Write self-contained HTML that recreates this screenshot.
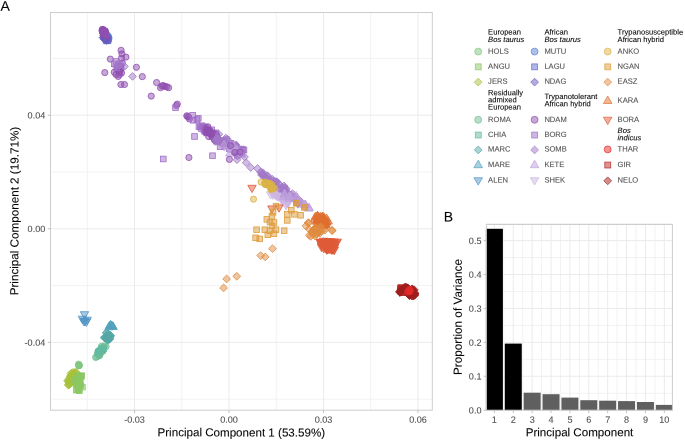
<!DOCTYPE html>
<html><head><meta charset="utf-8"><style>
html,body{margin:0;padding:0;background:#fff;width:685px;height:440px;overflow:hidden}
svg text{font-family:"Liberation Sans",sans-serif;text-rendering:geometricPrecision}
svg{will-change:transform}
svg text{stroke-opacity:0.25;stroke-width:0.3px}
</style></head><body>
<svg width="685" height="440" viewBox="0 0 685 440" style="position:absolute;left:0;top:0">
<rect width="685" height="440" fill="#fff"/>
<g shape-rendering="auto">
<line x1="87.25" y1="12.5" x2="87.25" y2="410.2" stroke="#f2f2f2" stroke-width="1"/>
<line x1="181.75" y1="12.5" x2="181.75" y2="410.2" stroke="#f2f2f2" stroke-width="1"/>
<line x1="276.25" y1="12.5" x2="276.25" y2="410.2" stroke="#f2f2f2" stroke-width="1"/>
<line x1="370.75" y1="12.5" x2="370.75" y2="410.2" stroke="#f2f2f2" stroke-width="1"/>
<line x1="50.5" y1="58.40" x2="432.3" y2="58.40" stroke="#f2f2f2" stroke-width="1"/>
<line x1="50.5" y1="172.00" x2="432.3" y2="172.00" stroke="#f2f2f2" stroke-width="1"/>
<line x1="50.5" y1="285.60" x2="432.3" y2="285.60" stroke="#f2f2f2" stroke-width="1"/>
<line x1="50.5" y1="399.20" x2="432.3" y2="399.20" stroke="#f2f2f2" stroke-width="1"/>
<line x1="134.50" y1="12.5" x2="134.50" y2="410.2" stroke="#ebebeb" stroke-width="1"/>
<line x1="229.00" y1="12.5" x2="229.00" y2="410.2" stroke="#ebebeb" stroke-width="1"/>
<line x1="323.50" y1="12.5" x2="323.50" y2="410.2" stroke="#ebebeb" stroke-width="1"/>
<line x1="418.00" y1="12.5" x2="418.00" y2="410.2" stroke="#ebebeb" stroke-width="1"/>
<line x1="50.5" y1="115.20" x2="432.3" y2="115.20" stroke="#ebebeb" stroke-width="1"/>
<line x1="50.5" y1="228.80" x2="432.3" y2="228.80" stroke="#ebebeb" stroke-width="1"/>
<line x1="50.5" y1="342.40" x2="432.3" y2="342.40" stroke="#ebebeb" stroke-width="1"/>
</g>
<path d="M74.7 374.9L78.6 378.8L74.7 382.7L70.8 378.8Z" fill="#a8c23c" fill-opacity="0.5" stroke="#a8c23c" stroke-opacity="1.0" stroke-width="0.8"/>
<path d="M67.5 377.1L71.4 381.0L67.5 384.9L63.6 381.0Z" fill="#a8c23c" fill-opacity="0.5" stroke="#a8c23c" stroke-opacity="1.0" stroke-width="0.8"/>
<path d="M75.2 368.8L79.1 372.7L75.2 376.6L71.3 372.7Z" fill="#a8c23c" fill-opacity="0.5" stroke="#a8c23c" stroke-opacity="1.0" stroke-width="0.8"/>
<path d="M68.6 375.3L72.5 379.2L68.6 383.1L64.7 379.2Z" fill="#a8c23c" fill-opacity="0.5" stroke="#a8c23c" stroke-opacity="1.0" stroke-width="0.8"/>
<path d="M69.7 378.3L73.6 382.2L69.7 386.1L65.8 382.2Z" fill="#a8c23c" fill-opacity="0.5" stroke="#a8c23c" stroke-opacity="1.0" stroke-width="0.8"/>
<path d="M70.5 372.1L74.4 376.0L70.5 379.9L66.6 376.0Z" fill="#a8c23c" fill-opacity="0.5" stroke="#a8c23c" stroke-opacity="1.0" stroke-width="0.8"/>
<path d="M71.9 372.1L75.8 376.0L71.9 379.9L68.0 376.0Z" fill="#a8c23c" fill-opacity="0.5" stroke="#a8c23c" stroke-opacity="1.0" stroke-width="0.8"/>
<path d="M74.9 369.9L78.8 373.8L74.9 377.7L71.0 373.8Z" fill="#a8c23c" fill-opacity="0.5" stroke="#a8c23c" stroke-opacity="1.0" stroke-width="0.8"/>
<path d="M71.9 375.0L75.8 378.9L71.9 382.8L68.0 378.9Z" fill="#a8c23c" fill-opacity="0.5" stroke="#a8c23c" stroke-opacity="1.0" stroke-width="0.8"/>
<path d="M74.9 368.8L78.8 372.7L74.9 376.6L71.0 372.7Z" fill="#a8c23c" fill-opacity="0.5" stroke="#a8c23c" stroke-opacity="1.0" stroke-width="0.8"/>
<path d="M70.8 369.7L74.7 373.6L70.8 377.5L66.9 373.6Z" fill="#a8c23c" fill-opacity="0.5" stroke="#a8c23c" stroke-opacity="1.0" stroke-width="0.8"/>
<path d="M68.6 380.6L72.5 384.5L68.6 388.4L64.7 384.5Z" fill="#a8c23c" fill-opacity="0.5" stroke="#a8c23c" stroke-opacity="1.0" stroke-width="0.8"/>
<path d="M70.2 377.0L74.1 380.9L70.2 384.8L66.3 380.9Z" fill="#a8c23c" fill-opacity="0.5" stroke="#a8c23c" stroke-opacity="1.0" stroke-width="0.8"/>
<path d="M74.1 368.6L78.0 372.5L74.1 376.4L70.2 372.5Z" fill="#a8c23c" fill-opacity="0.5" stroke="#a8c23c" stroke-opacity="1.0" stroke-width="0.8"/>
<path d="M74.9 373.3L78.8 377.2L74.9 381.1L71.0 377.2Z" fill="#a8c23c" fill-opacity="0.5" stroke="#a8c23c" stroke-opacity="1.0" stroke-width="0.8"/>
<path d="M72.2 372.2L76.1 376.1L72.2 380.0L68.3 376.1Z" fill="#a8c23c" fill-opacity="0.5" stroke="#a8c23c" stroke-opacity="1.0" stroke-width="0.8"/>
<path d="M71.6 378.2L75.5 382.1L71.6 386.0L67.7 382.1Z" fill="#a8c23c" fill-opacity="0.5" stroke="#a8c23c" stroke-opacity="1.0" stroke-width="0.8"/>
<path d="M72.1 372.6L76.0 376.5L72.1 380.4L68.2 376.5Z" fill="#a8c23c" fill-opacity="0.5" stroke="#a8c23c" stroke-opacity="1.0" stroke-width="0.8"/>
<path d="M69.3 377.3L73.2 381.2L69.3 385.1L65.4 381.2Z" fill="#a8c23c" fill-opacity="0.5" stroke="#a8c23c" stroke-opacity="1.0" stroke-width="0.8"/>
<path d="M74.3 374.1L78.2 378.0L74.3 381.9L70.4 378.0Z" fill="#a8c23c" fill-opacity="0.5" stroke="#a8c23c" stroke-opacity="1.0" stroke-width="0.8"/>
<path d="M72.4 376.4L76.3 380.3L72.4 384.2L68.5 380.3Z" fill="#a8c23c" fill-opacity="0.5" stroke="#a8c23c" stroke-opacity="1.0" stroke-width="0.8"/>
<path d="M72.9 375.6L76.8 379.5L72.9 383.4L69.0 379.5Z" fill="#a8c23c" fill-opacity="0.5" stroke="#a8c23c" stroke-opacity="1.0" stroke-width="0.8"/>
<path d="M72.5 373.8L76.4 377.7L72.5 381.6L68.6 377.7Z" fill="#a8c23c" fill-opacity="0.5" stroke="#a8c23c" stroke-opacity="1.0" stroke-width="0.8"/>
<path d="M70.0 377.4L73.9 381.3L70.0 385.2L66.1 381.3Z" fill="#a8c23c" fill-opacity="0.5" stroke="#a8c23c" stroke-opacity="1.0" stroke-width="0.8"/>
<path d="M75.7 369.5L79.6 373.4L75.7 377.3L71.8 373.4Z" fill="#a8c23c" fill-opacity="0.5" stroke="#a8c23c" stroke-opacity="1.0" stroke-width="0.8"/>
<path d="M73.7 372.9L77.6 376.8L73.7 380.7L69.8 376.8Z" fill="#a8c23c" fill-opacity="0.5" stroke="#a8c23c" stroke-opacity="1.0" stroke-width="0.8"/>
<path d="M68.9 377.4L72.8 381.3L68.9 385.2L65.0 381.3Z" fill="#a8c23c" fill-opacity="0.5" stroke="#a8c23c" stroke-opacity="1.0" stroke-width="0.8"/>
<path d="M72.2 368.8L76.1 372.7L72.2 376.6L68.3 372.7Z" fill="#a8c23c" fill-opacity="0.5" stroke="#a8c23c" stroke-opacity="1.0" stroke-width="0.8"/>
<path d="M70.4 373.1L74.3 377.0L70.4 380.9L66.5 377.0Z" fill="#a8c23c" fill-opacity="0.5" stroke="#a8c23c" stroke-opacity="1.0" stroke-width="0.8"/>
<path d="M76.3 368.4L80.2 372.3L76.3 376.2L72.4 372.3Z" fill="#a8c23c" fill-opacity="0.5" stroke="#a8c23c" stroke-opacity="1.0" stroke-width="0.8"/>
<path d="M73.9 370.6L77.8 374.5L73.9 378.4L70.0 374.5Z" fill="#a8c23c" fill-opacity="0.5" stroke="#a8c23c" stroke-opacity="1.0" stroke-width="0.8"/>
<path d="M68.9 381.0L72.8 384.9L68.9 388.8L65.0 384.9Z" fill="#a8c23c" fill-opacity="0.5" stroke="#a8c23c" stroke-opacity="1.0" stroke-width="0.8"/>
<path d="M70.7 372.4L74.6 376.3L70.7 380.2L66.8 376.3Z" fill="#a8c23c" fill-opacity="0.5" stroke="#a8c23c" stroke-opacity="1.0" stroke-width="0.8"/>
<path d="M68.5 381.3L72.4 385.2L68.5 389.1L64.6 385.2Z" fill="#a8c23c" fill-opacity="0.5" stroke="#a8c23c" stroke-opacity="1.0" stroke-width="0.8"/>
<path d="M71.1 378.9L75.0 382.8L71.1 386.7L67.2 382.8Z" fill="#a8c23c" fill-opacity="0.5" stroke="#a8c23c" stroke-opacity="1.0" stroke-width="0.8"/>
<path d="M74.0 376.1L77.9 380.0L74.0 383.9L70.1 380.0Z" fill="#a8c23c" fill-opacity="0.5" stroke="#a8c23c" stroke-opacity="1.0" stroke-width="0.8"/>
<path d="M72.3 372.5L76.2 376.4L72.3 380.3L68.4 376.4Z" fill="#a8c23c" fill-opacity="0.5" stroke="#a8c23c" stroke-opacity="1.0" stroke-width="0.8"/>
<path d="M68.9 377.5L72.8 381.4L68.9 385.3L65.0 381.4Z" fill="#a8c23c" fill-opacity="0.5" stroke="#a8c23c" stroke-opacity="1.0" stroke-width="0.8"/>
<path d="M69.6 379.5L73.5 383.4L69.6 387.3L65.7 383.4Z" fill="#a8c23c" fill-opacity="0.5" stroke="#a8c23c" stroke-opacity="1.0" stroke-width="0.8"/>
<path d="M73.4 369.5L77.3 373.4L73.4 377.3L69.5 373.4Z" fill="#a8c23c" fill-opacity="0.5" stroke="#a8c23c" stroke-opacity="1.0" stroke-width="0.8"/>
<circle cx="78.7" cy="365.8" r="3.10" fill="#7cc67c" fill-opacity="0.5" stroke="#7cc67c" stroke-opacity="1.0" stroke-width="0.8"/>
<circle cx="79.5" cy="365.4" r="3.10" fill="#7cc67c" fill-opacity="0.5" stroke="#7cc67c" stroke-opacity="1.0" stroke-width="0.8"/>
<circle cx="78.9" cy="365.2" r="3.10" fill="#7cc67c" fill-opacity="0.5" stroke="#7cc67c" stroke-opacity="1.0" stroke-width="0.8"/>
<circle cx="78.6" cy="364.2" r="3.10" fill="#7cc67c" fill-opacity="0.5" stroke="#7cc67c" stroke-opacity="1.0" stroke-width="0.8"/>
<rect x="77.1" y="376.4" width="5.6" height="5.6" fill="#8cc764" fill-opacity="0.5" stroke="#8cc764" stroke-opacity="1.0" stroke-width="0.8"/>
<rect x="77.7" y="382.4" width="5.6" height="5.6" fill="#8cc764" fill-opacity="0.5" stroke="#8cc764" stroke-opacity="1.0" stroke-width="0.8"/>
<rect x="76.1" y="375.3" width="5.6" height="5.6" fill="#8cc764" fill-opacity="0.5" stroke="#8cc764" stroke-opacity="1.0" stroke-width="0.8"/>
<rect x="73.1" y="376.4" width="5.6" height="5.6" fill="#8cc764" fill-opacity="0.5" stroke="#8cc764" stroke-opacity="1.0" stroke-width="0.8"/>
<rect x="76.4" y="387.9" width="5.6" height="5.6" fill="#8cc764" fill-opacity="0.5" stroke="#8cc764" stroke-opacity="1.0" stroke-width="0.8"/>
<rect x="74.2" y="381.7" width="5.6" height="5.6" fill="#8cc764" fill-opacity="0.5" stroke="#8cc764" stroke-opacity="1.0" stroke-width="0.8"/>
<rect x="73.2" y="381.7" width="5.6" height="5.6" fill="#8cc764" fill-opacity="0.5" stroke="#8cc764" stroke-opacity="1.0" stroke-width="0.8"/>
<rect x="72.7" y="377.3" width="5.6" height="5.6" fill="#8cc764" fill-opacity="0.5" stroke="#8cc764" stroke-opacity="1.0" stroke-width="0.8"/>
<rect x="78.3" y="373.2" width="5.6" height="5.6" fill="#8cc764" fill-opacity="0.5" stroke="#8cc764" stroke-opacity="1.0" stroke-width="0.8"/>
<rect x="75.5" y="385.4" width="5.6" height="5.6" fill="#8cc764" fill-opacity="0.5" stroke="#8cc764" stroke-opacity="1.0" stroke-width="0.8"/>
<rect x="75.8" y="379.2" width="5.6" height="5.6" fill="#8cc764" fill-opacity="0.5" stroke="#8cc764" stroke-opacity="1.0" stroke-width="0.8"/>
<rect x="75.1" y="372.9" width="5.6" height="5.6" fill="#8cc764" fill-opacity="0.5" stroke="#8cc764" stroke-opacity="1.0" stroke-width="0.8"/>
<rect x="77.2" y="382.3" width="5.6" height="5.6" fill="#8cc764" fill-opacity="0.5" stroke="#8cc764" stroke-opacity="1.0" stroke-width="0.8"/>
<rect x="76.8" y="377.9" width="5.6" height="5.6" fill="#8cc764" fill-opacity="0.5" stroke="#8cc764" stroke-opacity="1.0" stroke-width="0.8"/>
<rect x="75.3" y="385.0" width="5.6" height="5.6" fill="#8cc764" fill-opacity="0.5" stroke="#8cc764" stroke-opacity="1.0" stroke-width="0.8"/>
<rect x="77.5" y="382.1" width="5.6" height="5.6" fill="#8cc764" fill-opacity="0.5" stroke="#8cc764" stroke-opacity="1.0" stroke-width="0.8"/>
<rect x="73.2" y="379.4" width="5.6" height="5.6" fill="#8cc764" fill-opacity="0.5" stroke="#8cc764" stroke-opacity="1.0" stroke-width="0.8"/>
<rect x="77.0" y="382.3" width="5.6" height="5.6" fill="#8cc764" fill-opacity="0.5" stroke="#8cc764" stroke-opacity="1.0" stroke-width="0.8"/>
<rect x="74.5" y="379.0" width="5.6" height="5.6" fill="#8cc764" fill-opacity="0.5" stroke="#8cc764" stroke-opacity="1.0" stroke-width="0.8"/>
<rect x="79.6" y="384.3" width="5.6" height="5.6" fill="#8cc764" fill-opacity="0.5" stroke="#8cc764" stroke-opacity="1.0" stroke-width="0.8"/>
<rect x="78.2" y="374.9" width="5.6" height="5.6" fill="#8cc764" fill-opacity="0.5" stroke="#8cc764" stroke-opacity="1.0" stroke-width="0.8"/>
<rect x="76.4" y="387.5" width="5.6" height="5.6" fill="#8cc764" fill-opacity="0.5" stroke="#8cc764" stroke-opacity="1.0" stroke-width="0.8"/>
<rect x="75.9" y="374.1" width="5.6" height="5.6" fill="#8cc764" fill-opacity="0.5" stroke="#8cc764" stroke-opacity="1.0" stroke-width="0.8"/>
<rect x="78.9" y="372.9" width="5.6" height="5.6" fill="#8cc764" fill-opacity="0.5" stroke="#8cc764" stroke-opacity="1.0" stroke-width="0.8"/>
<rect x="75.8" y="374.4" width="5.6" height="5.6" fill="#8cc764" fill-opacity="0.5" stroke="#8cc764" stroke-opacity="1.0" stroke-width="0.8"/>
<rect x="75.7" y="385.7" width="5.6" height="5.6" fill="#8cc764" fill-opacity="0.5" stroke="#8cc764" stroke-opacity="1.0" stroke-width="0.8"/>
<rect x="77.8" y="373.4" width="5.6" height="5.6" fill="#8cc764" fill-opacity="0.5" stroke="#8cc764" stroke-opacity="1.0" stroke-width="0.8"/>
<rect x="74.8" y="387.1" width="5.6" height="5.6" fill="#8cc764" fill-opacity="0.5" stroke="#8cc764" stroke-opacity="1.0" stroke-width="0.8"/>
<rect x="73.5" y="387.3" width="5.6" height="5.6" fill="#8cc764" fill-opacity="0.5" stroke="#8cc764" stroke-opacity="1.0" stroke-width="0.8"/>
<rect x="76.9" y="381.0" width="5.6" height="5.6" fill="#8cc764" fill-opacity="0.5" stroke="#8cc764" stroke-opacity="1.0" stroke-width="0.8"/>
<circle cx="97.4" cy="353.9" r="3.10" fill="#6ebd95" fill-opacity="0.5" stroke="#6ebd95" stroke-opacity="1.0" stroke-width="0.8"/>
<circle cx="102.9" cy="351.0" r="3.10" fill="#6ebd95" fill-opacity="0.5" stroke="#6ebd95" stroke-opacity="1.0" stroke-width="0.8"/>
<circle cx="103.3" cy="349.7" r="3.10" fill="#6ebd95" fill-opacity="0.5" stroke="#6ebd95" stroke-opacity="1.0" stroke-width="0.8"/>
<circle cx="99.4" cy="353.6" r="3.10" fill="#6ebd95" fill-opacity="0.5" stroke="#6ebd95" stroke-opacity="1.0" stroke-width="0.8"/>
<circle cx="98.8" cy="355.8" r="3.10" fill="#6ebd95" fill-opacity="0.5" stroke="#6ebd95" stroke-opacity="1.0" stroke-width="0.8"/>
<circle cx="98.8" cy="355.6" r="3.10" fill="#6ebd95" fill-opacity="0.5" stroke="#6ebd95" stroke-opacity="1.0" stroke-width="0.8"/>
<circle cx="106.1" cy="346.7" r="3.10" fill="#6ebd95" fill-opacity="0.5" stroke="#6ebd95" stroke-opacity="1.0" stroke-width="0.8"/>
<circle cx="99.5" cy="352.1" r="3.10" fill="#6ebd95" fill-opacity="0.5" stroke="#6ebd95" stroke-opacity="1.0" stroke-width="0.8"/>
<circle cx="103.3" cy="348.2" r="3.10" fill="#6ebd95" fill-opacity="0.5" stroke="#6ebd95" stroke-opacity="1.0" stroke-width="0.8"/>
<circle cx="100.8" cy="350.4" r="3.10" fill="#6ebd95" fill-opacity="0.5" stroke="#6ebd95" stroke-opacity="1.0" stroke-width="0.8"/>
<circle cx="102.7" cy="350.6" r="3.10" fill="#6ebd95" fill-opacity="0.5" stroke="#6ebd95" stroke-opacity="1.0" stroke-width="0.8"/>
<circle cx="103.0" cy="351.1" r="3.10" fill="#6ebd95" fill-opacity="0.5" stroke="#6ebd95" stroke-opacity="1.0" stroke-width="0.8"/>
<circle cx="97.8" cy="352.2" r="3.10" fill="#6ebd95" fill-opacity="0.5" stroke="#6ebd95" stroke-opacity="1.0" stroke-width="0.8"/>
<circle cx="100.8" cy="350.4" r="3.10" fill="#6ebd95" fill-opacity="0.5" stroke="#6ebd95" stroke-opacity="1.0" stroke-width="0.8"/>
<circle cx="101.0" cy="351.0" r="3.10" fill="#6ebd95" fill-opacity="0.5" stroke="#6ebd95" stroke-opacity="1.0" stroke-width="0.8"/>
<circle cx="95.6" cy="357.4" r="3.10" fill="#6ebd95" fill-opacity="0.5" stroke="#6ebd95" stroke-opacity="1.0" stroke-width="0.8"/>
<circle cx="104.0" cy="347.3" r="3.10" fill="#6ebd95" fill-opacity="0.5" stroke="#6ebd95" stroke-opacity="1.0" stroke-width="0.8"/>
<circle cx="99.7" cy="354.8" r="3.10" fill="#6ebd95" fill-opacity="0.5" stroke="#6ebd95" stroke-opacity="1.0" stroke-width="0.8"/>
<circle cx="96.8" cy="356.8" r="3.10" fill="#6ebd95" fill-opacity="0.5" stroke="#6ebd95" stroke-opacity="1.0" stroke-width="0.8"/>
<circle cx="101.3" cy="351.8" r="3.10" fill="#6ebd95" fill-opacity="0.5" stroke="#6ebd95" stroke-opacity="1.0" stroke-width="0.8"/>
<circle cx="99.5" cy="350.0" r="3.10" fill="#6ebd95" fill-opacity="0.5" stroke="#6ebd95" stroke-opacity="1.0" stroke-width="0.8"/>
<circle cx="99.2" cy="355.7" r="3.10" fill="#6ebd95" fill-opacity="0.5" stroke="#6ebd95" stroke-opacity="1.0" stroke-width="0.8"/>
<circle cx="99.3" cy="352.0" r="3.10" fill="#6ebd95" fill-opacity="0.5" stroke="#6ebd95" stroke-opacity="1.0" stroke-width="0.8"/>
<circle cx="99.9" cy="355.0" r="3.10" fill="#6ebd95" fill-opacity="0.5" stroke="#6ebd95" stroke-opacity="1.0" stroke-width="0.8"/>
<circle cx="101.7" cy="349.2" r="3.10" fill="#6ebd95" fill-opacity="0.5" stroke="#6ebd95" stroke-opacity="1.0" stroke-width="0.8"/>
<circle cx="102.3" cy="349.8" r="3.10" fill="#6ebd95" fill-opacity="0.5" stroke="#6ebd95" stroke-opacity="1.0" stroke-width="0.8"/>
<circle cx="102.9" cy="348.5" r="3.10" fill="#6ebd95" fill-opacity="0.5" stroke="#6ebd95" stroke-opacity="1.0" stroke-width="0.8"/>
<circle cx="98.9" cy="351.1" r="3.10" fill="#6ebd95" fill-opacity="0.5" stroke="#6ebd95" stroke-opacity="1.0" stroke-width="0.8"/>
<circle cx="104.3" cy="345.9" r="3.10" fill="#6ebd95" fill-opacity="0.5" stroke="#6ebd95" stroke-opacity="1.0" stroke-width="0.8"/>
<circle cx="101.4" cy="351.2" r="3.10" fill="#6ebd95" fill-opacity="0.5" stroke="#6ebd95" stroke-opacity="1.0" stroke-width="0.8"/>
<circle cx="99.5" cy="353.5" r="3.10" fill="#6ebd95" fill-opacity="0.5" stroke="#6ebd95" stroke-opacity="1.0" stroke-width="0.8"/>
<circle cx="99.6" cy="353.5" r="3.10" fill="#6ebd95" fill-opacity="0.5" stroke="#6ebd95" stroke-opacity="1.0" stroke-width="0.8"/>
<circle cx="102.0" cy="347.6" r="3.10" fill="#6ebd95" fill-opacity="0.5" stroke="#6ebd95" stroke-opacity="1.0" stroke-width="0.8"/>
<circle cx="101.5" cy="346.3" r="3.10" fill="#6ebd95" fill-opacity="0.5" stroke="#6ebd95" stroke-opacity="1.0" stroke-width="0.8"/>
<rect x="100.5" y="346.0" width="5.6" height="5.6" fill="#62b9a2" fill-opacity="0.5" stroke="#62b9a2" stroke-opacity="1.0" stroke-width="0.8"/>
<rect x="99.4" y="346.1" width="5.6" height="5.6" fill="#62b9a2" fill-opacity="0.5" stroke="#62b9a2" stroke-opacity="1.0" stroke-width="0.8"/>
<rect x="98.4" y="346.4" width="5.6" height="5.6" fill="#62b9a2" fill-opacity="0.5" stroke="#62b9a2" stroke-opacity="1.0" stroke-width="0.8"/>
<rect x="95.4" y="349.5" width="5.6" height="5.6" fill="#62b9a2" fill-opacity="0.5" stroke="#62b9a2" stroke-opacity="1.0" stroke-width="0.8"/>
<rect x="96.5" y="348.6" width="5.6" height="5.6" fill="#62b9a2" fill-opacity="0.5" stroke="#62b9a2" stroke-opacity="1.0" stroke-width="0.8"/>
<rect x="96.1" y="348.5" width="5.6" height="5.6" fill="#62b9a2" fill-opacity="0.5" stroke="#62b9a2" stroke-opacity="1.0" stroke-width="0.8"/>
<path d="M108.6 335.5L112.5 339.4L108.6 343.3L104.7 339.4Z" fill="#55a8a6" fill-opacity="0.5" stroke="#55a8a6" stroke-opacity="1.0" stroke-width="0.8"/>
<path d="M110.6 331.8L114.5 335.7L110.6 339.6L106.7 335.7Z" fill="#55a8a6" fill-opacity="0.5" stroke="#55a8a6" stroke-opacity="1.0" stroke-width="0.8"/>
<path d="M109.2 331.1L113.1 335.0L109.2 338.9L105.3 335.0Z" fill="#55a8a6" fill-opacity="0.5" stroke="#55a8a6" stroke-opacity="1.0" stroke-width="0.8"/>
<path d="M104.6 333.8L108.5 337.7L104.6 341.6L100.7 337.7Z" fill="#55a8a6" fill-opacity="0.5" stroke="#55a8a6" stroke-opacity="1.0" stroke-width="0.8"/>
<path d="M107.8 336.3L111.7 340.2L107.8 344.1L103.9 340.2Z" fill="#55a8a6" fill-opacity="0.5" stroke="#55a8a6" stroke-opacity="1.0" stroke-width="0.8"/>
<path d="M110.4 332.0L114.3 335.9L110.4 339.8L106.5 335.9Z" fill="#55a8a6" fill-opacity="0.5" stroke="#55a8a6" stroke-opacity="1.0" stroke-width="0.8"/>
<path d="M107.0 332.3L110.9 336.2L107.0 340.1L103.1 336.2Z" fill="#55a8a6" fill-opacity="0.5" stroke="#55a8a6" stroke-opacity="1.0" stroke-width="0.8"/>
<path d="M104.5 333.4L108.4 337.3L104.5 341.2L100.6 337.3Z" fill="#55a8a6" fill-opacity="0.5" stroke="#55a8a6" stroke-opacity="1.0" stroke-width="0.8"/>
<path d="M108.3 330.1L112.2 334.0L108.3 337.9L104.4 334.0Z" fill="#55a8a6" fill-opacity="0.5" stroke="#55a8a6" stroke-opacity="1.0" stroke-width="0.8"/>
<path d="M104.7 334.2L108.6 338.1L104.7 342.0L100.8 338.1Z" fill="#55a8a6" fill-opacity="0.5" stroke="#55a8a6" stroke-opacity="1.0" stroke-width="0.8"/>
<path d="M106.6 334.3L110.5 338.2L106.6 342.1L102.7 338.2Z" fill="#55a8a6" fill-opacity="0.5" stroke="#55a8a6" stroke-opacity="1.0" stroke-width="0.8"/>
<path d="M105.6 333.0L109.5 336.9L105.6 340.8L101.7 336.9Z" fill="#55a8a6" fill-opacity="0.5" stroke="#55a8a6" stroke-opacity="1.0" stroke-width="0.8"/>
<path d="M106.1 328.9L110.0 332.8L106.1 336.7L102.2 332.8Z" fill="#55a8a6" fill-opacity="0.5" stroke="#55a8a6" stroke-opacity="1.0" stroke-width="0.8"/>
<path d="M109.7 335.4L113.6 339.3L109.7 343.2L105.8 339.3Z" fill="#55a8a6" fill-opacity="0.5" stroke="#55a8a6" stroke-opacity="1.0" stroke-width="0.8"/>
<path d="M107.7 332.5L111.6 336.4L107.7 340.3L103.8 336.4Z" fill="#55a8a6" fill-opacity="0.5" stroke="#55a8a6" stroke-opacity="1.0" stroke-width="0.8"/>
<path d="M110.1 334.1L114.0 338.0L110.1 341.9L106.2 338.0Z" fill="#55a8a6" fill-opacity="0.5" stroke="#55a8a6" stroke-opacity="1.0" stroke-width="0.8"/>
<path d="M107.0 331.3L110.9 335.2L107.0 339.1L103.1 335.2Z" fill="#55a8a6" fill-opacity="0.5" stroke="#55a8a6" stroke-opacity="1.0" stroke-width="0.8"/>
<path d="M106.4 335.0L110.3 338.9L106.4 342.8L102.5 338.9Z" fill="#55a8a6" fill-opacity="0.5" stroke="#55a8a6" stroke-opacity="1.0" stroke-width="0.8"/>
<path d="M110.5 331.5L114.4 335.4L110.5 339.3L106.6 335.4Z" fill="#55a8a6" fill-opacity="0.5" stroke="#55a8a6" stroke-opacity="1.0" stroke-width="0.8"/>
<path d="M107.8 335.6L111.7 339.5L107.8 343.4L103.9 339.5Z" fill="#55a8a6" fill-opacity="0.5" stroke="#55a8a6" stroke-opacity="1.0" stroke-width="0.8"/>
<path d="M107.2 332.2L111.1 336.1L107.2 340.0L103.3 336.1Z" fill="#55a8a6" fill-opacity="0.5" stroke="#55a8a6" stroke-opacity="1.0" stroke-width="0.8"/>
<path d="M106.9 328.8L110.8 332.7L106.9 336.6L103.0 332.7Z" fill="#55a8a6" fill-opacity="0.5" stroke="#55a8a6" stroke-opacity="1.0" stroke-width="0.8"/>
<path d="M108.2 334.7L112.1 338.6L108.2 342.5L104.3 338.6Z" fill="#55a8a6" fill-opacity="0.5" stroke="#55a8a6" stroke-opacity="1.0" stroke-width="0.8"/>
<path d="M108.7 332.6L112.6 336.5L108.7 340.4L104.8 336.5Z" fill="#55a8a6" fill-opacity="0.5" stroke="#55a8a6" stroke-opacity="1.0" stroke-width="0.8"/>
<path d="M110.6 320.3L114.8 327.6L106.4 327.6Z" fill="#52a2bd" fill-opacity="0.5" stroke="#52a2bd" stroke-opacity="1.0" stroke-width="0.8"/>
<path d="M111.8 321.2L116.0 328.5L107.6 328.5Z" fill="#52a2bd" fill-opacity="0.5" stroke="#52a2bd" stroke-opacity="1.0" stroke-width="0.8"/>
<path d="M109.4 321.5L113.6 328.8L105.2 328.8Z" fill="#52a2bd" fill-opacity="0.5" stroke="#52a2bd" stroke-opacity="1.0" stroke-width="0.8"/>
<path d="M112.8 321.8L117.0 329.1L108.6 329.1Z" fill="#52a2bd" fill-opacity="0.5" stroke="#52a2bd" stroke-opacity="1.0" stroke-width="0.8"/>
<path d="M111.0 321.0L115.2 328.3L106.8 328.3Z" fill="#52a2bd" fill-opacity="0.5" stroke="#52a2bd" stroke-opacity="1.0" stroke-width="0.8"/>
<path d="M109.0 322.5L113.2 329.8L104.8 329.8Z" fill="#52a2bd" fill-opacity="0.5" stroke="#52a2bd" stroke-opacity="1.0" stroke-width="0.8"/>
<path d="M113.0 322.2L117.2 329.5L108.8 329.5Z" fill="#52a2bd" fill-opacity="0.5" stroke="#52a2bd" stroke-opacity="1.0" stroke-width="0.8"/>
<path d="M80.3 311.7L88.7 311.7L84.5 319.0Z" fill="#5094c6" fill-opacity="0.5" stroke="#5094c6" stroke-opacity="1.0" stroke-width="0.8"/>
<path d="M78.1 316.2L86.5 316.2L82.3 323.5Z" fill="#5094c6" fill-opacity="0.5" stroke="#5094c6" stroke-opacity="1.0" stroke-width="0.8"/>
<path d="M80.6 318.2L89.0 318.2L84.8 325.5Z" fill="#5094c6" fill-opacity="0.5" stroke="#5094c6" stroke-opacity="1.0" stroke-width="0.8"/>
<path d="M83.0 317.2L91.4 317.2L87.2 324.5Z" fill="#5094c6" fill-opacity="0.5" stroke="#5094c6" stroke-opacity="1.0" stroke-width="0.8"/>
<path d="M79.8 318.7L88.2 318.7L84.0 326.0Z" fill="#5094c6" fill-opacity="0.5" stroke="#5094c6" stroke-opacity="1.0" stroke-width="0.8"/>
<path d="M82.1 319.2L90.5 319.2L86.3 326.5Z" fill="#5094c6" fill-opacity="0.5" stroke="#5094c6" stroke-opacity="1.0" stroke-width="0.8"/>
<circle cx="108.6" cy="36.6" r="3.10" fill="#5a82d6" fill-opacity="0.5" stroke="#5a82d6" stroke-opacity="1.0" stroke-width="0.8"/>
<circle cx="107.2" cy="37.2" r="3.10" fill="#5a82d6" fill-opacity="0.5" stroke="#5a82d6" stroke-opacity="1.0" stroke-width="0.8"/>
<circle cx="109.0" cy="38.3" r="3.10" fill="#5a82d6" fill-opacity="0.5" stroke="#5a82d6" stroke-opacity="1.0" stroke-width="0.8"/>
<circle cx="107.4" cy="37.0" r="3.10" fill="#5a82d6" fill-opacity="0.5" stroke="#5a82d6" stroke-opacity="1.0" stroke-width="0.8"/>
<circle cx="107.6" cy="35.2" r="3.10" fill="#5a82d6" fill-opacity="0.5" stroke="#5a82d6" stroke-opacity="1.0" stroke-width="0.8"/>
<circle cx="107.7" cy="37.6" r="3.10" fill="#5a82d6" fill-opacity="0.5" stroke="#5a82d6" stroke-opacity="1.0" stroke-width="0.8"/>
<rect x="104.2" y="35.6" width="5.6" height="5.6" fill="#626ecb" fill-opacity="0.5" stroke="#626ecb" stroke-opacity="1.0" stroke-width="0.8"/>
<rect x="102.8" y="33.4" width="5.6" height="5.6" fill="#626ecb" fill-opacity="0.5" stroke="#626ecb" stroke-opacity="1.0" stroke-width="0.8"/>
<rect x="103.8" y="36.6" width="5.6" height="5.6" fill="#626ecb" fill-opacity="0.5" stroke="#626ecb" stroke-opacity="1.0" stroke-width="0.8"/>
<rect x="105.2" y="37.4" width="5.6" height="5.6" fill="#626ecb" fill-opacity="0.5" stroke="#626ecb" stroke-opacity="1.0" stroke-width="0.8"/>
<rect x="105.1" y="37.7" width="5.6" height="5.6" fill="#626ecb" fill-opacity="0.5" stroke="#626ecb" stroke-opacity="1.0" stroke-width="0.8"/>
<rect x="102.9" y="35.2" width="5.6" height="5.6" fill="#626ecb" fill-opacity="0.5" stroke="#626ecb" stroke-opacity="1.0" stroke-width="0.8"/>
<rect x="103.9" y="38.2" width="5.6" height="5.6" fill="#626ecb" fill-opacity="0.5" stroke="#626ecb" stroke-opacity="1.0" stroke-width="0.8"/>
<rect x="104.5" y="36.0" width="5.6" height="5.6" fill="#626ecb" fill-opacity="0.5" stroke="#626ecb" stroke-opacity="1.0" stroke-width="0.8"/>
<rect x="105.6" y="36.3" width="5.6" height="5.6" fill="#626ecb" fill-opacity="0.5" stroke="#626ecb" stroke-opacity="1.0" stroke-width="0.8"/>
<rect x="103.2" y="37.4" width="5.6" height="5.6" fill="#626ecb" fill-opacity="0.5" stroke="#626ecb" stroke-opacity="1.0" stroke-width="0.8"/>
<rect x="102.5" y="35.3" width="5.6" height="5.6" fill="#626ecb" fill-opacity="0.5" stroke="#626ecb" stroke-opacity="1.0" stroke-width="0.8"/>
<rect x="103.1" y="35.1" width="5.6" height="5.6" fill="#626ecb" fill-opacity="0.5" stroke="#626ecb" stroke-opacity="1.0" stroke-width="0.8"/>
<path d="M104.1 32.3L108.0 36.2L104.1 40.1L100.2 36.2Z" fill="#6a5abf" fill-opacity="0.5" stroke="#6a5abf" stroke-opacity="1.0" stroke-width="0.8"/>
<path d="M106.6 36.4L110.5 40.3L106.6 44.2L102.7 40.3Z" fill="#6a5abf" fill-opacity="0.5" stroke="#6a5abf" stroke-opacity="1.0" stroke-width="0.8"/>
<path d="M104.3 31.6L108.2 35.5L104.3 39.4L100.4 35.5Z" fill="#6a5abf" fill-opacity="0.5" stroke="#6a5abf" stroke-opacity="1.0" stroke-width="0.8"/>
<path d="M104.9 35.1L108.8 39.0L104.9 42.9L101.0 39.0Z" fill="#6a5abf" fill-opacity="0.5" stroke="#6a5abf" stroke-opacity="1.0" stroke-width="0.8"/>
<path d="M103.9 31.3L107.8 35.2L103.9 39.1L100.0 35.2Z" fill="#6a5abf" fill-opacity="0.5" stroke="#6a5abf" stroke-opacity="1.0" stroke-width="0.8"/>
<path d="M105.6 34.0L109.5 37.9L105.6 41.8L101.7 37.9Z" fill="#6a5abf" fill-opacity="0.5" stroke="#6a5abf" stroke-opacity="1.0" stroke-width="0.8"/>
<path d="M105.4 31.8L109.3 35.7L105.4 39.6L101.5 35.7Z" fill="#6a5abf" fill-opacity="0.5" stroke="#6a5abf" stroke-opacity="1.0" stroke-width="0.8"/>
<path d="M106.7 34.3L110.6 38.2L106.7 42.1L102.8 38.2Z" fill="#6a5abf" fill-opacity="0.5" stroke="#6a5abf" stroke-opacity="1.0" stroke-width="0.8"/>
<path d="M103.5 33.5L107.4 37.4L103.5 41.3L99.6 37.4Z" fill="#6a5abf" fill-opacity="0.5" stroke="#6a5abf" stroke-opacity="1.0" stroke-width="0.8"/>
<path d="M103.1 33.7L107.0 37.6L103.1 41.5L99.2 37.6Z" fill="#6a5abf" fill-opacity="0.5" stroke="#6a5abf" stroke-opacity="1.0" stroke-width="0.8"/>
<path d="M104.9 35.6L108.8 39.5L104.9 43.4L101.0 39.5Z" fill="#6a5abf" fill-opacity="0.5" stroke="#6a5abf" stroke-opacity="1.0" stroke-width="0.8"/>
<path d="M104.1 35.0L108.0 38.9L104.1 42.8L100.2 38.9Z" fill="#6a5abf" fill-opacity="0.5" stroke="#6a5abf" stroke-opacity="1.0" stroke-width="0.8"/>
<path d="M103.8 31.4L107.7 35.3L103.8 39.2L99.9 35.3Z" fill="#6a5abf" fill-opacity="0.5" stroke="#6a5abf" stroke-opacity="1.0" stroke-width="0.8"/>
<path d="M106.9 35.5L110.8 39.4L106.9 43.3L103.0 39.4Z" fill="#6a5abf" fill-opacity="0.5" stroke="#6a5abf" stroke-opacity="1.0" stroke-width="0.8"/>
<path d="M106.2 35.4L110.1 39.3L106.2 43.2L102.3 39.3Z" fill="#6a5abf" fill-opacity="0.5" stroke="#6a5abf" stroke-opacity="1.0" stroke-width="0.8"/>
<path d="M105.5 32.5L109.4 36.4L105.5 40.3L101.6 36.4Z" fill="#6a5abf" fill-opacity="0.5" stroke="#6a5abf" stroke-opacity="1.0" stroke-width="0.8"/>
<path d="M107.3 36.2L111.2 40.1L107.3 44.0L103.4 40.1Z" fill="#6a5abf" fill-opacity="0.5" stroke="#6a5abf" stroke-opacity="1.0" stroke-width="0.8"/>
<path d="M104.3 33.2L108.2 37.1L104.3 41.0L100.4 37.1Z" fill="#6a5abf" fill-opacity="0.5" stroke="#6a5abf" stroke-opacity="1.0" stroke-width="0.8"/>
<circle cx="103.7" cy="33.5" r="3.10" fill="#8f4fb0" fill-opacity="0.5" stroke="#8f4fb0" stroke-opacity="1.0" stroke-width="0.8"/>
<circle cx="105.3" cy="31.9" r="3.10" fill="#8f4fb0" fill-opacity="0.5" stroke="#8f4fb0" stroke-opacity="1.0" stroke-width="0.8"/>
<circle cx="102.8" cy="32.1" r="3.10" fill="#8f4fb0" fill-opacity="0.5" stroke="#8f4fb0" stroke-opacity="1.0" stroke-width="0.8"/>
<circle cx="105.1" cy="33.2" r="3.10" fill="#8f4fb0" fill-opacity="0.5" stroke="#8f4fb0" stroke-opacity="1.0" stroke-width="0.8"/>
<circle cx="103.9" cy="32.9" r="3.10" fill="#8f4fb0" fill-opacity="0.5" stroke="#8f4fb0" stroke-opacity="1.0" stroke-width="0.8"/>
<circle cx="103.0" cy="29.5" r="3.10" fill="#8f4fb0" fill-opacity="0.5" stroke="#8f4fb0" stroke-opacity="1.0" stroke-width="0.8"/>
<circle cx="104.4" cy="30.7" r="3.10" fill="#8f4fb0" fill-opacity="0.5" stroke="#8f4fb0" stroke-opacity="1.0" stroke-width="0.8"/>
<circle cx="104.0" cy="30.5" r="3.10" fill="#8f4fb0" fill-opacity="0.5" stroke="#8f4fb0" stroke-opacity="1.0" stroke-width="0.8"/>
<circle cx="103.1" cy="30.6" r="3.10" fill="#8f4fb0" fill-opacity="0.5" stroke="#8f4fb0" stroke-opacity="1.0" stroke-width="0.8"/>
<circle cx="103.0" cy="33.1" r="3.10" fill="#8f4fb0" fill-opacity="0.5" stroke="#8f4fb0" stroke-opacity="1.0" stroke-width="0.8"/>
<circle cx="102.2" cy="30.4" r="3.10" fill="#8f4fb0" fill-opacity="0.5" stroke="#8f4fb0" stroke-opacity="1.0" stroke-width="0.8"/>
<circle cx="102.4" cy="29.6" r="3.10" fill="#8f4fb0" fill-opacity="0.5" stroke="#8f4fb0" stroke-opacity="1.0" stroke-width="0.8"/>
<circle cx="102.3" cy="30.5" r="3.10" fill="#8f4fb0" fill-opacity="0.5" stroke="#8f4fb0" stroke-opacity="1.0" stroke-width="0.8"/>
<circle cx="105.6" cy="34.2" r="3.10" fill="#8f4fb0" fill-opacity="0.5" stroke="#8f4fb0" stroke-opacity="1.0" stroke-width="0.8"/>
<circle cx="103.0" cy="32.9" r="3.10" fill="#8f4fb0" fill-opacity="0.5" stroke="#8f4fb0" stroke-opacity="1.0" stroke-width="0.8"/>
<circle cx="105.2" cy="31.1" r="3.10" fill="#8f4fb0" fill-opacity="0.5" stroke="#8f4fb0" stroke-opacity="1.0" stroke-width="0.8"/>
<circle cx="104.6" cy="35.0" r="3.10" fill="#8f4fb0" fill-opacity="0.5" stroke="#8f4fb0" stroke-opacity="1.0" stroke-width="0.8"/>
<circle cx="104.3" cy="31.1" r="3.10" fill="#8f4fb0" fill-opacity="0.5" stroke="#8f4fb0" stroke-opacity="1.0" stroke-width="0.8"/>
<circle cx="105.9" cy="35.4" r="3.10" fill="#8f4fb0" fill-opacity="0.5" stroke="#8f4fb0" stroke-opacity="1.0" stroke-width="0.8"/>
<circle cx="106.2" cy="35.5" r="3.10" fill="#8f4fb0" fill-opacity="0.5" stroke="#8f4fb0" stroke-opacity="1.0" stroke-width="0.8"/>
<circle cx="105.2" cy="31.1" r="3.10" fill="#8f4fb0" fill-opacity="0.5" stroke="#8f4fb0" stroke-opacity="1.0" stroke-width="0.8"/>
<circle cx="103.5" cy="31.3" r="3.10" fill="#8f4fb0" fill-opacity="0.5" stroke="#8f4fb0" stroke-opacity="1.0" stroke-width="0.8"/>
<circle cx="102.4" cy="29.5" r="3.10" fill="#8f4fb0" fill-opacity="0.5" stroke="#8f4fb0" stroke-opacity="1.0" stroke-width="0.8"/>
<circle cx="105.8" cy="35.9" r="3.10" fill="#8f4fb0" fill-opacity="0.5" stroke="#8f4fb0" stroke-opacity="1.0" stroke-width="0.8"/>
<circle cx="105.4" cy="35.6" r="3.10" fill="#8f4fb0" fill-opacity="0.5" stroke="#8f4fb0" stroke-opacity="1.0" stroke-width="0.8"/>
<circle cx="102.2" cy="31.4" r="3.10" fill="#8f4fb0" fill-opacity="0.5" stroke="#8f4fb0" stroke-opacity="1.0" stroke-width="0.8"/>
<circle cx="103.1" cy="32.8" r="3.10" fill="#8f4fb0" fill-opacity="0.5" stroke="#8f4fb0" stroke-opacity="1.0" stroke-width="0.8"/>
<circle cx="105.7" cy="35.4" r="3.10" fill="#8f4fb0" fill-opacity="0.5" stroke="#8f4fb0" stroke-opacity="1.0" stroke-width="0.8"/>
<circle cx="105.3" cy="32.3" r="3.10" fill="#8f4fb0" fill-opacity="0.5" stroke="#8f4fb0" stroke-opacity="1.0" stroke-width="0.8"/>
<circle cx="104.6" cy="30.8" r="3.10" fill="#8f4fb0" fill-opacity="0.5" stroke="#8f4fb0" stroke-opacity="1.0" stroke-width="0.8"/>
<circle cx="121.1" cy="50.3" r="3.10" fill="#8f4fb0" fill-opacity="0.5" stroke="#8f4fb0" stroke-opacity="1.0" stroke-width="0.8"/>
<circle cx="121.9" cy="53.9" r="3.10" fill="#8f4fb0" fill-opacity="0.5" stroke="#8f4fb0" stroke-opacity="1.0" stroke-width="0.8"/>
<circle cx="125.9" cy="57.1" r="3.10" fill="#8f4fb0" fill-opacity="0.5" stroke="#8f4fb0" stroke-opacity="1.0" stroke-width="0.8"/>
<circle cx="110.3" cy="59.1" r="3.10" fill="#8f4fb0" fill-opacity="0.5" stroke="#8f4fb0" stroke-opacity="1.0" stroke-width="0.8"/>
<circle cx="121.5" cy="58.3" r="3.10" fill="#8f4fb0" fill-opacity="0.5" stroke="#8f4fb0" stroke-opacity="1.0" stroke-width="0.8"/>
<circle cx="122.3" cy="63.1" r="3.10" fill="#8f4fb0" fill-opacity="0.5" stroke="#8f4fb0" stroke-opacity="1.0" stroke-width="0.8"/>
<circle cx="120.7" cy="66.3" r="3.10" fill="#8f4fb0" fill-opacity="0.5" stroke="#8f4fb0" stroke-opacity="1.0" stroke-width="0.8"/>
<circle cx="104.8" cy="72.6" r="3.10" fill="#8f4fb0" fill-opacity="0.5" stroke="#8f4fb0" stroke-opacity="1.0" stroke-width="0.8"/>
<circle cx="114.3" cy="72.2" r="3.10" fill="#8f4fb0" fill-opacity="0.5" stroke="#8f4fb0" stroke-opacity="1.0" stroke-width="0.8"/>
<circle cx="119.1" cy="71.0" r="3.10" fill="#8f4fb0" fill-opacity="0.5" stroke="#8f4fb0" stroke-opacity="1.0" stroke-width="0.8"/>
<circle cx="118.2" cy="76.4" r="3.10" fill="#8f4fb0" fill-opacity="0.5" stroke="#8f4fb0" stroke-opacity="1.0" stroke-width="0.8"/>
<circle cx="136.4" cy="67.3" r="3.10" fill="#8f4fb0" fill-opacity="0.5" stroke="#8f4fb0" stroke-opacity="1.0" stroke-width="0.8"/>
<circle cx="142.3" cy="76.6" r="3.10" fill="#8f4fb0" fill-opacity="0.5" stroke="#8f4fb0" stroke-opacity="1.0" stroke-width="0.8"/>
<circle cx="120.9" cy="84.5" r="3.10" fill="#8f4fb0" fill-opacity="0.5" stroke="#8f4fb0" stroke-opacity="1.0" stroke-width="0.8"/>
<circle cx="124.5" cy="84.5" r="3.10" fill="#8f4fb0" fill-opacity="0.5" stroke="#8f4fb0" stroke-opacity="1.0" stroke-width="0.8"/>
<circle cx="117.0" cy="69.5" r="3.10" fill="#8f4fb0" fill-opacity="0.5" stroke="#8f4fb0" stroke-opacity="1.0" stroke-width="0.8"/>
<circle cx="116.0" cy="74.5" r="3.10" fill="#8f4fb0" fill-opacity="0.5" stroke="#8f4fb0" stroke-opacity="1.0" stroke-width="0.8"/>
<circle cx="156.6" cy="82.5" r="3.10" fill="#8f4fb0" fill-opacity="0.5" stroke="#8f4fb0" stroke-opacity="1.0" stroke-width="0.8"/>
<circle cx="160.5" cy="87.7" r="3.10" fill="#8f4fb0" fill-opacity="0.5" stroke="#8f4fb0" stroke-opacity="1.0" stroke-width="0.8"/>
<circle cx="163.2" cy="85.5" r="3.10" fill="#8f4fb0" fill-opacity="0.5" stroke="#8f4fb0" stroke-opacity="1.0" stroke-width="0.8"/>
<circle cx="165.0" cy="86.4" r="3.10" fill="#8f4fb0" fill-opacity="0.5" stroke="#8f4fb0" stroke-opacity="1.0" stroke-width="0.8"/>
<circle cx="166.8" cy="86.8" r="3.10" fill="#8f4fb0" fill-opacity="0.5" stroke="#8f4fb0" stroke-opacity="1.0" stroke-width="0.8"/>
<circle cx="168.6" cy="87.7" r="3.10" fill="#8f4fb0" fill-opacity="0.5" stroke="#8f4fb0" stroke-opacity="1.0" stroke-width="0.8"/>
<circle cx="162.0" cy="86.0" r="3.10" fill="#8f4fb0" fill-opacity="0.5" stroke="#8f4fb0" stroke-opacity="1.0" stroke-width="0.8"/>
<circle cx="151.2" cy="96.1" r="3.10" fill="#8f4fb0" fill-opacity="0.5" stroke="#8f4fb0" stroke-opacity="1.0" stroke-width="0.8"/>
<circle cx="177.3" cy="104.1" r="3.10" fill="#8f4fb0" fill-opacity="0.5" stroke="#8f4fb0" stroke-opacity="1.0" stroke-width="0.8"/>
<circle cx="176.4" cy="105.5" r="3.10" fill="#8f4fb0" fill-opacity="0.5" stroke="#8f4fb0" stroke-opacity="1.0" stroke-width="0.8"/>
<circle cx="188.9" cy="157.5" r="3.10" fill="#8f4fb0" fill-opacity="0.5" stroke="#8f4fb0" stroke-opacity="1.0" stroke-width="0.8"/>
<circle cx="121.0" cy="68.5" r="3.10" fill="#8f4fb0" fill-opacity="0.5" stroke="#8f4fb0" stroke-opacity="1.0" stroke-width="0.8"/>
<circle cx="120.0" cy="71.5" r="3.10" fill="#8f4fb0" fill-opacity="0.5" stroke="#8f4fb0" stroke-opacity="1.0" stroke-width="0.8"/>
<circle cx="121.5" cy="73.0" r="3.10" fill="#8f4fb0" fill-opacity="0.5" stroke="#8f4fb0" stroke-opacity="1.0" stroke-width="0.8"/>
<circle cx="119.5" cy="74.5" r="3.10" fill="#8f4fb0" fill-opacity="0.5" stroke="#8f4fb0" stroke-opacity="1.0" stroke-width="0.8"/>
<rect x="113.1" y="58.7" width="5.6" height="5.6" fill="#a06ec8" fill-opacity="0.5" stroke="#a06ec8" stroke-opacity="1.0" stroke-width="0.8"/>
<rect x="111.5" y="61.1" width="5.6" height="5.6" fill="#a06ec8" fill-opacity="0.5" stroke="#a06ec8" stroke-opacity="1.0" stroke-width="0.8"/>
<rect x="115.5" y="62.7" width="5.6" height="5.6" fill="#a06ec8" fill-opacity="0.5" stroke="#a06ec8" stroke-opacity="1.0" stroke-width="0.8"/>
<rect x="114.2" y="65.2" width="5.6" height="5.6" fill="#a06ec8" fill-opacity="0.5" stroke="#a06ec8" stroke-opacity="1.0" stroke-width="0.8"/>
<rect x="172.7" y="104.9" width="5.6" height="5.6" fill="#a06ec8" fill-opacity="0.5" stroke="#a06ec8" stroke-opacity="1.0" stroke-width="0.8"/>
<rect x="160.5" y="156.2" width="5.6" height="5.6" fill="#a06ec8" fill-opacity="0.5" stroke="#a06ec8" stroke-opacity="1.0" stroke-width="0.8"/>
<path d="M124.5 62.5L128.4 66.4L124.5 70.3L120.6 66.4Z" fill="#a278c8" fill-opacity="0.5" stroke="#a278c8" stroke-opacity="1.0" stroke-width="0.8"/>
<path d="M132.5 72.5L136.4 76.4L132.5 80.3L128.6 76.4Z" fill="#a278c8" fill-opacity="0.5" stroke="#a278c8" stroke-opacity="1.0" stroke-width="0.8"/>
<path d="M119.0 59.1L122.9 63.0L119.0 66.9L115.1 63.0Z" fill="#a278c8" fill-opacity="0.5" stroke="#a278c8" stroke-opacity="1.0" stroke-width="0.8"/>
<path d="M116.0 62.6L119.9 66.5L116.0 70.4L112.1 66.5Z" fill="#a278c8" fill-opacity="0.5" stroke="#a278c8" stroke-opacity="1.0" stroke-width="0.8"/>
<circle cx="186.8" cy="115.8" r="3.10" fill="#8f4fb0" fill-opacity="0.5" stroke="#8f4fb0" stroke-opacity="1.0" stroke-width="0.8"/>
<circle cx="188.7" cy="117.1" r="3.10" fill="#8f4fb0" fill-opacity="0.5" stroke="#8f4fb0" stroke-opacity="1.0" stroke-width="0.8"/>
<circle cx="189.4" cy="119.0" r="3.10" fill="#8f4fb0" fill-opacity="0.5" stroke="#8f4fb0" stroke-opacity="1.0" stroke-width="0.8"/>
<circle cx="187.5" cy="116.5" r="3.10" fill="#8f4fb0" fill-opacity="0.5" stroke="#8f4fb0" stroke-opacity="1.0" stroke-width="0.8"/>
<rect x="189.8" y="112.4" width="5.6" height="5.6" fill="#a06ec8" fill-opacity="0.5" stroke="#a06ec8" stroke-opacity="1.0" stroke-width="0.8"/>
<rect x="190.4" y="117.5" width="5.6" height="5.6" fill="#a06ec8" fill-opacity="0.5" stroke="#a06ec8" stroke-opacity="1.0" stroke-width="0.8"/>
<rect x="194.2" y="116.8" width="5.6" height="5.6" fill="#a06ec8" fill-opacity="0.5" stroke="#a06ec8" stroke-opacity="1.0" stroke-width="0.8"/>
<rect x="195.5" y="115.6" width="5.6" height="5.6" fill="#a06ec8" fill-opacity="0.5" stroke="#a06ec8" stroke-opacity="1.0" stroke-width="0.8"/>
<rect x="196.1" y="123.8" width="5.6" height="5.6" fill="#a06ec8" fill-opacity="0.5" stroke="#a06ec8" stroke-opacity="1.0" stroke-width="0.8"/>
<rect x="199.3" y="122.9" width="5.6" height="5.6" fill="#a06ec8" fill-opacity="0.5" stroke="#a06ec8" stroke-opacity="1.0" stroke-width="0.8"/>
<rect x="202.5" y="124.5" width="5.6" height="5.6" fill="#a06ec8" fill-opacity="0.5" stroke="#a06ec8" stroke-opacity="1.0" stroke-width="0.8"/>
<rect x="198.7" y="125.8" width="5.6" height="5.6" fill="#a06ec8" fill-opacity="0.5" stroke="#a06ec8" stroke-opacity="1.0" stroke-width="0.8"/>
<rect x="205.7" y="127.7" width="5.6" height="5.6" fill="#a06ec8" fill-opacity="0.5" stroke="#a06ec8" stroke-opacity="1.0" stroke-width="0.8"/>
<rect x="208.9" y="127.0" width="5.6" height="5.6" fill="#a06ec8" fill-opacity="0.5" stroke="#a06ec8" stroke-opacity="1.0" stroke-width="0.8"/>
<rect x="203.8" y="130.2" width="5.6" height="5.6" fill="#a06ec8" fill-opacity="0.5" stroke="#a06ec8" stroke-opacity="1.0" stroke-width="0.8"/>
<rect x="191.7" y="133.7" width="5.6" height="5.6" fill="#a06ec8" fill-opacity="0.5" stroke="#a06ec8" stroke-opacity="1.0" stroke-width="0.8"/>
<rect x="209.7" y="152.9" width="5.6" height="5.6" fill="#a06ec8" fill-opacity="0.5" stroke="#a06ec8" stroke-opacity="1.0" stroke-width="0.8"/>
<rect x="238.3" y="146.2" width="5.6" height="5.6" fill="#a06ec8" fill-opacity="0.5" stroke="#a06ec8" stroke-opacity="1.0" stroke-width="0.8"/>
<rect x="214.1" y="137.6" width="5.6" height="5.6" fill="#a06ec8" fill-opacity="0.5" stroke="#a06ec8" stroke-opacity="1.0" stroke-width="0.8"/>
<rect x="221.5" y="138.4" width="5.6" height="5.6" fill="#a06ec8" fill-opacity="0.5" stroke="#a06ec8" stroke-opacity="1.0" stroke-width="0.8"/>
<rect x="202.0" y="128.2" width="5.6" height="5.6" fill="#a06ec8" fill-opacity="0.5" stroke="#a06ec8" stroke-opacity="1.0" stroke-width="0.8"/>
<rect x="202.0" y="128.5" width="5.6" height="5.6" fill="#a06ec8" fill-opacity="0.5" stroke="#a06ec8" stroke-opacity="1.0" stroke-width="0.8"/>
<rect x="231.7" y="146.4" width="5.6" height="5.6" fill="#a06ec8" fill-opacity="0.5" stroke="#a06ec8" stroke-opacity="1.0" stroke-width="0.8"/>
<rect x="213.5" y="136.7" width="5.6" height="5.6" fill="#a06ec8" fill-opacity="0.5" stroke="#a06ec8" stroke-opacity="1.0" stroke-width="0.8"/>
<rect x="209.3" y="133.9" width="5.6" height="5.6" fill="#a06ec8" fill-opacity="0.5" stroke="#a06ec8" stroke-opacity="1.0" stroke-width="0.8"/>
<rect x="238.7" y="149.9" width="5.6" height="5.6" fill="#a06ec8" fill-opacity="0.5" stroke="#a06ec8" stroke-opacity="1.0" stroke-width="0.8"/>
<rect x="201.1" y="127.0" width="5.6" height="5.6" fill="#a06ec8" fill-opacity="0.5" stroke="#a06ec8" stroke-opacity="1.0" stroke-width="0.8"/>
<rect x="217.3" y="144.0" width="5.6" height="5.6" fill="#a06ec8" fill-opacity="0.5" stroke="#a06ec8" stroke-opacity="1.0" stroke-width="0.8"/>
<rect x="228.3" y="140.6" width="5.6" height="5.6" fill="#a06ec8" fill-opacity="0.5" stroke="#a06ec8" stroke-opacity="1.0" stroke-width="0.8"/>
<rect x="234.7" y="152.4" width="5.6" height="5.6" fill="#a06ec8" fill-opacity="0.5" stroke="#a06ec8" stroke-opacity="1.0" stroke-width="0.8"/>
<rect x="206.6" y="128.0" width="5.6" height="5.6" fill="#a06ec8" fill-opacity="0.5" stroke="#a06ec8" stroke-opacity="1.0" stroke-width="0.8"/>
<rect x="225.0" y="142.5" width="5.6" height="5.6" fill="#a06ec8" fill-opacity="0.5" stroke="#a06ec8" stroke-opacity="1.0" stroke-width="0.8"/>
<rect x="197.4" y="124.2" width="5.6" height="5.6" fill="#a06ec8" fill-opacity="0.5" stroke="#a06ec8" stroke-opacity="1.0" stroke-width="0.8"/>
<rect x="232.3" y="144.6" width="5.6" height="5.6" fill="#a06ec8" fill-opacity="0.5" stroke="#a06ec8" stroke-opacity="1.0" stroke-width="0.8"/>
<rect x="213.1" y="130.0" width="5.6" height="5.6" fill="#a06ec8" fill-opacity="0.5" stroke="#a06ec8" stroke-opacity="1.0" stroke-width="0.8"/>
<rect x="218.9" y="139.4" width="5.6" height="5.6" fill="#a06ec8" fill-opacity="0.5" stroke="#a06ec8" stroke-opacity="1.0" stroke-width="0.8"/>
<rect x="205.6" y="129.1" width="5.6" height="5.6" fill="#a06ec8" fill-opacity="0.5" stroke="#a06ec8" stroke-opacity="1.0" stroke-width="0.8"/>
<rect x="208.4" y="131.2" width="5.6" height="5.6" fill="#a06ec8" fill-opacity="0.5" stroke="#a06ec8" stroke-opacity="1.0" stroke-width="0.8"/>
<rect x="203.1" y="128.3" width="5.6" height="5.6" fill="#a06ec8" fill-opacity="0.5" stroke="#a06ec8" stroke-opacity="1.0" stroke-width="0.8"/>
<rect x="213.7" y="138.5" width="5.6" height="5.6" fill="#a06ec8" fill-opacity="0.5" stroke="#a06ec8" stroke-opacity="1.0" stroke-width="0.8"/>
<rect x="220.9" y="139.0" width="5.6" height="5.6" fill="#a06ec8" fill-opacity="0.5" stroke="#a06ec8" stroke-opacity="1.0" stroke-width="0.8"/>
<rect x="226.5" y="145.8" width="5.6" height="5.6" fill="#a06ec8" fill-opacity="0.5" stroke="#a06ec8" stroke-opacity="1.0" stroke-width="0.8"/>
<rect x="205.3" y="128.2" width="5.6" height="5.6" fill="#a06ec8" fill-opacity="0.5" stroke="#a06ec8" stroke-opacity="1.0" stroke-width="0.8"/>
<rect x="205.0" y="126.0" width="5.6" height="5.6" fill="#a06ec8" fill-opacity="0.5" stroke="#a06ec8" stroke-opacity="1.0" stroke-width="0.8"/>
<rect x="235.4" y="148.1" width="5.6" height="5.6" fill="#a06ec8" fill-opacity="0.5" stroke="#a06ec8" stroke-opacity="1.0" stroke-width="0.8"/>
<rect x="231.4" y="142.3" width="5.6" height="5.6" fill="#a06ec8" fill-opacity="0.5" stroke="#a06ec8" stroke-opacity="1.0" stroke-width="0.8"/>
<rect x="241.2" y="147.3" width="5.6" height="5.6" fill="#a06ec8" fill-opacity="0.5" stroke="#a06ec8" stroke-opacity="1.0" stroke-width="0.8"/>
<rect x="213.1" y="136.5" width="5.6" height="5.6" fill="#a06ec8" fill-opacity="0.5" stroke="#a06ec8" stroke-opacity="1.0" stroke-width="0.8"/>
<rect x="234.4" y="148.9" width="5.6" height="5.6" fill="#a06ec8" fill-opacity="0.5" stroke="#a06ec8" stroke-opacity="1.0" stroke-width="0.8"/>
<rect x="220.7" y="140.9" width="5.6" height="5.6" fill="#a06ec8" fill-opacity="0.5" stroke="#a06ec8" stroke-opacity="1.0" stroke-width="0.8"/>
<rect x="200.3" y="123.8" width="5.6" height="5.6" fill="#a06ec8" fill-opacity="0.5" stroke="#a06ec8" stroke-opacity="1.0" stroke-width="0.8"/>
<rect x="231.8" y="149.1" width="5.6" height="5.6" fill="#a06ec8" fill-opacity="0.5" stroke="#a06ec8" stroke-opacity="1.0" stroke-width="0.8"/>
<rect x="223.7" y="136.8" width="5.6" height="5.6" fill="#a06ec8" fill-opacity="0.5" stroke="#a06ec8" stroke-opacity="1.0" stroke-width="0.8"/>
<rect x="218.5" y="137.7" width="5.6" height="5.6" fill="#a06ec8" fill-opacity="0.5" stroke="#a06ec8" stroke-opacity="1.0" stroke-width="0.8"/>
<rect x="232.5" y="143.3" width="5.6" height="5.6" fill="#a06ec8" fill-opacity="0.5" stroke="#a06ec8" stroke-opacity="1.0" stroke-width="0.8"/>
<rect x="233.0" y="144.3" width="5.6" height="5.6" fill="#a06ec8" fill-opacity="0.5" stroke="#a06ec8" stroke-opacity="1.0" stroke-width="0.8"/>
<rect x="240.1" y="146.7" width="5.6" height="5.6" fill="#a06ec8" fill-opacity="0.5" stroke="#a06ec8" stroke-opacity="1.0" stroke-width="0.8"/>
<circle cx="211.7" cy="134.8" r="3.10" fill="#8f4fb0" fill-opacity="0.5" stroke="#8f4fb0" stroke-opacity="1.0" stroke-width="0.8"/>
<circle cx="216.5" cy="134.6" r="3.10" fill="#8f4fb0" fill-opacity="0.5" stroke="#8f4fb0" stroke-opacity="1.0" stroke-width="0.8"/>
<circle cx="215.1" cy="137.4" r="3.10" fill="#8f4fb0" fill-opacity="0.5" stroke="#8f4fb0" stroke-opacity="1.0" stroke-width="0.8"/>
<circle cx="209.8" cy="130.9" r="3.10" fill="#8f4fb0" fill-opacity="0.5" stroke="#8f4fb0" stroke-opacity="1.0" stroke-width="0.8"/>
<circle cx="215.3" cy="137.7" r="3.10" fill="#8f4fb0" fill-opacity="0.5" stroke="#8f4fb0" stroke-opacity="1.0" stroke-width="0.8"/>
<circle cx="206.3" cy="132.7" r="3.10" fill="#8f4fb0" fill-opacity="0.5" stroke="#8f4fb0" stroke-opacity="1.0" stroke-width="0.8"/>
<circle cx="214.7" cy="140.2" r="3.10" fill="#8f4fb0" fill-opacity="0.5" stroke="#8f4fb0" stroke-opacity="1.0" stroke-width="0.8"/>
<circle cx="205.7" cy="128.7" r="3.10" fill="#8f4fb0" fill-opacity="0.5" stroke="#8f4fb0" stroke-opacity="1.0" stroke-width="0.8"/>
<circle cx="216.1" cy="137.7" r="3.10" fill="#8f4fb0" fill-opacity="0.5" stroke="#8f4fb0" stroke-opacity="1.0" stroke-width="0.8"/>
<circle cx="208.0" cy="130.4" r="3.10" fill="#8f4fb0" fill-opacity="0.5" stroke="#8f4fb0" stroke-opacity="1.0" stroke-width="0.8"/>
<circle cx="216.7" cy="136.4" r="3.10" fill="#8f4fb0" fill-opacity="0.5" stroke="#8f4fb0" stroke-opacity="1.0" stroke-width="0.8"/>
<circle cx="214.7" cy="140.1" r="3.10" fill="#8f4fb0" fill-opacity="0.5" stroke="#8f4fb0" stroke-opacity="1.0" stroke-width="0.8"/>
<circle cx="212.2" cy="136.2" r="3.10" fill="#8f4fb0" fill-opacity="0.5" stroke="#8f4fb0" stroke-opacity="1.0" stroke-width="0.8"/>
<circle cx="215.6" cy="138.4" r="3.10" fill="#8f4fb0" fill-opacity="0.5" stroke="#8f4fb0" stroke-opacity="1.0" stroke-width="0.8"/>
<circle cx="212.3" cy="136.2" r="3.10" fill="#8f4fb0" fill-opacity="0.5" stroke="#8f4fb0" stroke-opacity="1.0" stroke-width="0.8"/>
<circle cx="211.2" cy="132.6" r="3.10" fill="#8f4fb0" fill-opacity="0.5" stroke="#8f4fb0" stroke-opacity="1.0" stroke-width="0.8"/>
<circle cx="212.8" cy="133.9" r="3.10" fill="#8f4fb0" fill-opacity="0.5" stroke="#8f4fb0" stroke-opacity="1.0" stroke-width="0.8"/>
<circle cx="206.9" cy="132.1" r="3.10" fill="#8f4fb0" fill-opacity="0.5" stroke="#8f4fb0" stroke-opacity="1.0" stroke-width="0.8"/>
<circle cx="208.7" cy="136.6" r="3.10" fill="#8f4fb0" fill-opacity="0.5" stroke="#8f4fb0" stroke-opacity="1.0" stroke-width="0.8"/>
<circle cx="209.6" cy="132.4" r="3.10" fill="#8f4fb0" fill-opacity="0.5" stroke="#8f4fb0" stroke-opacity="1.0" stroke-width="0.8"/>
<circle cx="217.2" cy="139.5" r="3.10" fill="#8f4fb0" fill-opacity="0.5" stroke="#8f4fb0" stroke-opacity="1.0" stroke-width="0.8"/>
<circle cx="211.8" cy="135.0" r="3.10" fill="#8f4fb0" fill-opacity="0.5" stroke="#8f4fb0" stroke-opacity="1.0" stroke-width="0.8"/>
<circle cx="215.1" cy="136.6" r="3.10" fill="#8f4fb0" fill-opacity="0.5" stroke="#8f4fb0" stroke-opacity="1.0" stroke-width="0.8"/>
<circle cx="207.8" cy="130.0" r="3.10" fill="#8f4fb0" fill-opacity="0.5" stroke="#8f4fb0" stroke-opacity="1.0" stroke-width="0.8"/>
<circle cx="214.4" cy="133.3" r="3.10" fill="#8f4fb0" fill-opacity="0.5" stroke="#8f4fb0" stroke-opacity="1.0" stroke-width="0.8"/>
<circle cx="209.5" cy="131.2" r="3.10" fill="#8f4fb0" fill-opacity="0.5" stroke="#8f4fb0" stroke-opacity="1.0" stroke-width="0.8"/>
<circle cx="207.5" cy="130.7" r="3.10" fill="#8f4fb0" fill-opacity="0.5" stroke="#8f4fb0" stroke-opacity="1.0" stroke-width="0.8"/>
<circle cx="207.9" cy="126.8" r="3.10" fill="#8f4fb0" fill-opacity="0.5" stroke="#8f4fb0" stroke-opacity="1.0" stroke-width="0.8"/>
<circle cx="209.9" cy="131.8" r="3.10" fill="#8f4fb0" fill-opacity="0.5" stroke="#8f4fb0" stroke-opacity="1.0" stroke-width="0.8"/>
<circle cx="217.6" cy="137.4" r="3.10" fill="#8f4fb0" fill-opacity="0.5" stroke="#8f4fb0" stroke-opacity="1.0" stroke-width="0.8"/>
<path d="M239.3 148.4L243.2 152.3L239.3 156.2L235.4 152.3Z" fill="#a278c8" fill-opacity="0.5" stroke="#a278c8" stroke-opacity="1.0" stroke-width="0.8"/>
<path d="M233.9 146.9L237.8 150.8L233.9 154.7L230.0 150.8Z" fill="#a278c8" fill-opacity="0.5" stroke="#a278c8" stroke-opacity="1.0" stroke-width="0.8"/>
<path d="M217.5 135.2L221.4 139.1L217.5 143.0L213.6 139.1Z" fill="#a278c8" fill-opacity="0.5" stroke="#a278c8" stroke-opacity="1.0" stroke-width="0.8"/>
<path d="M240.6 149.9L244.5 153.8L240.6 157.7L236.7 153.8Z" fill="#a278c8" fill-opacity="0.5" stroke="#a278c8" stroke-opacity="1.0" stroke-width="0.8"/>
<path d="M241.5 148.6L245.4 152.5L241.5 156.4L237.6 152.5Z" fill="#a278c8" fill-opacity="0.5" stroke="#a278c8" stroke-opacity="1.0" stroke-width="0.8"/>
<path d="M230.6 143.4L234.5 147.3L230.6 151.2L226.7 147.3Z" fill="#a278c8" fill-opacity="0.5" stroke="#a278c8" stroke-opacity="1.0" stroke-width="0.8"/>
<path d="M223.4 140.5L227.3 144.4L223.4 148.3L219.5 144.4Z" fill="#a278c8" fill-opacity="0.5" stroke="#a278c8" stroke-opacity="1.0" stroke-width="0.8"/>
<path d="M235.4 148.3L239.3 152.2L235.4 156.1L231.5 152.2Z" fill="#a278c8" fill-opacity="0.5" stroke="#a278c8" stroke-opacity="1.0" stroke-width="0.8"/>
<path d="M237.5 152.0L241.4 155.9L237.5 159.8L233.6 155.9Z" fill="#a278c8" fill-opacity="0.5" stroke="#a278c8" stroke-opacity="1.0" stroke-width="0.8"/>
<path d="M232.2 144.0L236.1 147.9L232.2 151.8L228.3 147.9Z" fill="#a278c8" fill-opacity="0.5" stroke="#a278c8" stroke-opacity="1.0" stroke-width="0.8"/>
<path d="M232.8 144.8L236.7 148.7L232.8 152.6L228.9 148.7Z" fill="#a278c8" fill-opacity="0.5" stroke="#a278c8" stroke-opacity="1.0" stroke-width="0.8"/>
<path d="M236.1 141.0L240.0 144.9L236.1 148.8L232.2 144.9Z" fill="#a278c8" fill-opacity="0.5" stroke="#a278c8" stroke-opacity="1.0" stroke-width="0.8"/>
<path d="M227.2 135.2L231.1 139.1L227.2 143.0L223.3 139.1Z" fill="#a278c8" fill-opacity="0.5" stroke="#a278c8" stroke-opacity="1.0" stroke-width="0.8"/>
<path d="M217.3 134.0L221.2 137.9L217.3 141.8L213.4 137.9Z" fill="#a278c8" fill-opacity="0.5" stroke="#a278c8" stroke-opacity="1.0" stroke-width="0.8"/>
<path d="M237.5 144.1L241.4 148.0L237.5 151.9L233.6 148.0Z" fill="#a278c8" fill-opacity="0.5" stroke="#a278c8" stroke-opacity="1.0" stroke-width="0.8"/>
<path d="M233.8 144.3L237.7 148.2L233.8 152.1L229.9 148.2Z" fill="#a278c8" fill-opacity="0.5" stroke="#a278c8" stroke-opacity="1.0" stroke-width="0.8"/>
<path d="M215.9 137.8L219.8 141.7L215.9 145.6L212.0 141.7Z" fill="#a278c8" fill-opacity="0.5" stroke="#a278c8" stroke-opacity="1.0" stroke-width="0.8"/>
<path d="M225.7 134.3L229.6 138.2L225.7 142.1L221.8 138.2Z" fill="#a278c8" fill-opacity="0.5" stroke="#a278c8" stroke-opacity="1.0" stroke-width="0.8"/>
<path d="M231.6 140.0L235.5 143.9L231.6 147.8L227.7 143.9Z" fill="#a278c8" fill-opacity="0.5" stroke="#a278c8" stroke-opacity="1.0" stroke-width="0.8"/>
<path d="M215.5 135.9L219.4 139.8L215.5 143.7L211.6 139.8Z" fill="#a278c8" fill-opacity="0.5" stroke="#a278c8" stroke-opacity="1.0" stroke-width="0.8"/>
<path d="M218.9 130.4L222.8 134.3L218.9 138.2L215.0 134.3Z" fill="#a278c8" fill-opacity="0.5" stroke="#a278c8" stroke-opacity="1.0" stroke-width="0.8"/>
<path d="M221.1 139.2L225.0 143.1L221.1 147.0L217.2 143.1Z" fill="#a278c8" fill-opacity="0.5" stroke="#a278c8" stroke-opacity="1.0" stroke-width="0.8"/>
<path d="M217.9 135.2L221.8 139.1L217.9 143.0L214.0 139.1Z" fill="#a278c8" fill-opacity="0.5" stroke="#a278c8" stroke-opacity="1.0" stroke-width="0.8"/>
<path d="M224.1 142.8L228.0 146.7L224.1 150.6L220.2 146.7Z" fill="#a278c8" fill-opacity="0.5" stroke="#a278c8" stroke-opacity="1.0" stroke-width="0.8"/>
<path d="M229.9 148.8L234.1 156.1L225.7 156.1Z" fill="#bd9fdc" fill-opacity="0.5" stroke="#bd9fdc" stroke-opacity="1.0" stroke-width="0.8"/>
<path d="M232.6 144.8L236.8 152.1L228.4 152.1Z" fill="#bd9fdc" fill-opacity="0.5" stroke="#bd9fdc" stroke-opacity="1.0" stroke-width="0.8"/>
<path d="M233.1 145.4L237.3 152.7L228.9 152.7Z" fill="#bd9fdc" fill-opacity="0.5" stroke="#bd9fdc" stroke-opacity="1.0" stroke-width="0.8"/>
<path d="M231.7 143.4L235.9 150.7L227.5 150.7Z" fill="#bd9fdc" fill-opacity="0.5" stroke="#bd9fdc" stroke-opacity="1.0" stroke-width="0.8"/>
<path d="M229.9 141.9L234.1 149.2L225.7 149.2Z" fill="#bd9fdc" fill-opacity="0.5" stroke="#bd9fdc" stroke-opacity="1.0" stroke-width="0.8"/>
<path d="M237.1 145.4L241.3 152.7L232.9 152.7Z" fill="#bd9fdc" fill-opacity="0.5" stroke="#bd9fdc" stroke-opacity="1.0" stroke-width="0.8"/>
<path d="M233.9 141.6L238.1 148.9L229.7 148.9Z" fill="#bd9fdc" fill-opacity="0.5" stroke="#bd9fdc" stroke-opacity="1.0" stroke-width="0.8"/>
<path d="M224.2 140.2L228.4 147.5L220.0 147.5Z" fill="#bd9fdc" fill-opacity="0.5" stroke="#bd9fdc" stroke-opacity="1.0" stroke-width="0.8"/>
<path d="M231.9 144.3L236.1 151.6L227.7 151.6Z" fill="#bd9fdc" fill-opacity="0.5" stroke="#bd9fdc" stroke-opacity="1.0" stroke-width="0.8"/>
<path d="M241.5 149.8L245.7 157.1L237.3 157.1Z" fill="#bd9fdc" fill-opacity="0.5" stroke="#bd9fdc" stroke-opacity="1.0" stroke-width="0.8"/>
<circle cx="239.9" cy="152.1" r="3.10" fill="#8f4fb0" fill-opacity="0.5" stroke="#8f4fb0" stroke-opacity="1.0" stroke-width="0.8"/>
<circle cx="230.5" cy="145.7" r="3.10" fill="#8f4fb0" fill-opacity="0.5" stroke="#8f4fb0" stroke-opacity="1.0" stroke-width="0.8"/>
<circle cx="234.8" cy="152.5" r="3.10" fill="#8f4fb0" fill-opacity="0.5" stroke="#8f4fb0" stroke-opacity="1.0" stroke-width="0.8"/>
<circle cx="229.4" cy="159.4" r="3.10" fill="#8f4fb0" fill-opacity="0.5" stroke="#8f4fb0" stroke-opacity="1.0" stroke-width="0.8"/>
<path d="M244.5 153.0L248.4 156.9L244.5 160.8L240.6 156.9Z" fill="#a278c8" fill-opacity="0.5" stroke="#a278c8" stroke-opacity="1.0" stroke-width="0.8"/>
<path d="M246.2 158.8L250.1 162.7L246.2 166.6L242.3 162.7Z" fill="#a278c8" fill-opacity="0.5" stroke="#a278c8" stroke-opacity="1.0" stroke-width="0.8"/>
<path d="M250.7 163.6L254.6 167.5L250.7 171.4L246.8 167.5Z" fill="#a278c8" fill-opacity="0.5" stroke="#a278c8" stroke-opacity="1.0" stroke-width="0.8"/>
<path d="M257.5 164.6L261.4 168.5L257.5 172.4L253.6 168.5Z" fill="#a278c8" fill-opacity="0.5" stroke="#a278c8" stroke-opacity="1.0" stroke-width="0.8"/>
<path d="M237.0 155.8L240.9 159.7L237.0 163.6L233.1 159.7Z" fill="#a278c8" fill-opacity="0.5" stroke="#a278c8" stroke-opacity="1.0" stroke-width="0.8"/>
<path d="M266.4 191.8L274.8 191.8L270.6 199.1Z" fill="#cdb6e4" fill-opacity="0.5" stroke="#cdb6e4" stroke-opacity="1.0" stroke-width="0.8"/>
<path d="M269.0 192.2L277.4 192.2L273.2 199.5Z" fill="#cdb6e4" fill-opacity="0.5" stroke="#cdb6e4" stroke-opacity="1.0" stroke-width="0.8"/>
<path d="M276.9 194.8L285.3 194.8L281.1 202.1Z" fill="#cdb6e4" fill-opacity="0.5" stroke="#cdb6e4" stroke-opacity="1.0" stroke-width="0.8"/>
<path d="M284.3 199.1L292.7 199.1L288.5 206.4Z" fill="#cdb6e4" fill-opacity="0.5" stroke="#cdb6e4" stroke-opacity="1.0" stroke-width="0.8"/>
<path d="M277.8 198.1L286.2 198.1L282.0 205.4Z" fill="#cdb6e4" fill-opacity="0.5" stroke="#cdb6e4" stroke-opacity="1.0" stroke-width="0.8"/>
<path d="M268.6 190.6L277.0 190.6L272.8 197.9Z" fill="#cdb6e4" fill-opacity="0.5" stroke="#cdb6e4" stroke-opacity="1.0" stroke-width="0.8"/>
<path d="M284.5 199.7L292.9 199.7L288.7 207.0Z" fill="#cdb6e4" fill-opacity="0.5" stroke="#cdb6e4" stroke-opacity="1.0" stroke-width="0.8"/>
<path d="M273.8 190.0L282.2 190.0L278.0 197.3Z" fill="#cdb6e4" fill-opacity="0.5" stroke="#cdb6e4" stroke-opacity="1.0" stroke-width="0.8"/>
<path d="M282.3 200.4L290.7 200.4L286.5 207.7Z" fill="#cdb6e4" fill-opacity="0.5" stroke="#cdb6e4" stroke-opacity="1.0" stroke-width="0.8"/>
<path d="M273.1 191.8L281.5 191.8L277.3 199.1Z" fill="#cdb6e4" fill-opacity="0.5" stroke="#cdb6e4" stroke-opacity="1.0" stroke-width="0.8"/>
<path d="M273.1 193.6L281.5 193.6L277.3 200.9Z" fill="#cdb6e4" fill-opacity="0.5" stroke="#cdb6e4" stroke-opacity="1.0" stroke-width="0.8"/>
<path d="M277.3 195.9L285.7 195.9L281.5 203.2Z" fill="#cdb6e4" fill-opacity="0.5" stroke="#cdb6e4" stroke-opacity="1.0" stroke-width="0.8"/>
<path d="M282.8 200.4L291.2 200.4L287.0 207.7Z" fill="#cdb6e4" fill-opacity="0.5" stroke="#cdb6e4" stroke-opacity="1.0" stroke-width="0.8"/>
<path d="M278.1 196.4L286.5 196.4L282.3 203.7Z" fill="#cdb6e4" fill-opacity="0.5" stroke="#cdb6e4" stroke-opacity="1.0" stroke-width="0.8"/>
<path d="M274.4 194.0L282.8 194.0L278.6 201.3Z" fill="#cdb6e4" fill-opacity="0.5" stroke="#cdb6e4" stroke-opacity="1.0" stroke-width="0.8"/>
<path d="M272.2 192.7L280.6 192.7L276.4 200.0Z" fill="#cdb6e4" fill-opacity="0.5" stroke="#cdb6e4" stroke-opacity="1.0" stroke-width="0.8"/>
<path d="M281.8 202.6L290.2 202.6L286.0 209.9Z" fill="#cdb6e4" fill-opacity="0.5" stroke="#cdb6e4" stroke-opacity="1.0" stroke-width="0.8"/>
<path d="M284.9 196.3L293.3 196.3L289.1 203.6Z" fill="#cdb6e4" fill-opacity="0.5" stroke="#cdb6e4" stroke-opacity="1.0" stroke-width="0.8"/>
<path d="M280.1 196.2L288.5 196.2L284.3 203.5Z" fill="#cdb6e4" fill-opacity="0.5" stroke="#cdb6e4" stroke-opacity="1.0" stroke-width="0.8"/>
<path d="M271.1 192.0L279.5 192.0L275.3 199.3Z" fill="#cdb6e4" fill-opacity="0.5" stroke="#cdb6e4" stroke-opacity="1.0" stroke-width="0.8"/>
<path d="M298.7 196.1L302.6 200.0L298.7 203.9L294.8 200.0Z" fill="#a278c8" fill-opacity="0.5" stroke="#a278c8" stroke-opacity="1.0" stroke-width="0.8"/>
<path d="M270.2 176.4L274.1 180.3L270.2 184.2L266.3 180.3Z" fill="#a278c8" fill-opacity="0.5" stroke="#a278c8" stroke-opacity="1.0" stroke-width="0.8"/>
<path d="M284.0 187.6L287.9 191.5L284.0 195.4L280.1 191.5Z" fill="#a278c8" fill-opacity="0.5" stroke="#a278c8" stroke-opacity="1.0" stroke-width="0.8"/>
<path d="M263.8 171.6L267.7 175.5L263.8 179.4L259.9 175.5Z" fill="#a278c8" fill-opacity="0.5" stroke="#a278c8" stroke-opacity="1.0" stroke-width="0.8"/>
<path d="M267.6 174.5L271.5 178.4L267.6 182.3L263.7 178.4Z" fill="#a278c8" fill-opacity="0.5" stroke="#a278c8" stroke-opacity="1.0" stroke-width="0.8"/>
<path d="M285.6 189.2L289.5 193.1L285.6 197.0L281.7 193.1Z" fill="#a278c8" fill-opacity="0.5" stroke="#a278c8" stroke-opacity="1.0" stroke-width="0.8"/>
<path d="M276.2 178.4L280.1 182.3L276.2 186.2L272.3 182.3Z" fill="#a278c8" fill-opacity="0.5" stroke="#a278c8" stroke-opacity="1.0" stroke-width="0.8"/>
<path d="M294.2 195.5L298.1 199.4L294.2 203.3L290.3 199.4Z" fill="#a278c8" fill-opacity="0.5" stroke="#a278c8" stroke-opacity="1.0" stroke-width="0.8"/>
<path d="M286.3 187.5L290.2 191.4L286.3 195.3L282.4 191.4Z" fill="#a278c8" fill-opacity="0.5" stroke="#a278c8" stroke-opacity="1.0" stroke-width="0.8"/>
<path d="M263.5 171.1L267.4 175.0L263.5 178.9L259.6 175.0Z" fill="#a278c8" fill-opacity="0.5" stroke="#a278c8" stroke-opacity="1.0" stroke-width="0.8"/>
<path d="M295.7 194.6L299.6 198.5L295.7 202.4L291.8 198.5Z" fill="#a278c8" fill-opacity="0.5" stroke="#a278c8" stroke-opacity="1.0" stroke-width="0.8"/>
<path d="M284.5 184.3L288.4 188.2L284.5 192.1L280.6 188.2Z" fill="#a278c8" fill-opacity="0.5" stroke="#a278c8" stroke-opacity="1.0" stroke-width="0.8"/>
<path d="M263.0 168.8L266.9 172.7L263.0 176.6L259.1 172.7Z" fill="#a278c8" fill-opacity="0.5" stroke="#a278c8" stroke-opacity="1.0" stroke-width="0.8"/>
<path d="M297.1 197.4L301.0 201.3L297.1 205.2L293.2 201.3Z" fill="#a278c8" fill-opacity="0.5" stroke="#a278c8" stroke-opacity="1.0" stroke-width="0.8"/>
<path d="M298.0 200.4L301.9 204.3L298.0 208.2L294.1 204.3Z" fill="#a278c8" fill-opacity="0.5" stroke="#a278c8" stroke-opacity="1.0" stroke-width="0.8"/>
<path d="M284.8 187.4L288.7 191.3L284.8 195.2L280.9 191.3Z" fill="#a278c8" fill-opacity="0.5" stroke="#a278c8" stroke-opacity="1.0" stroke-width="0.8"/>
<path d="M279.1 184.4L283.0 188.3L279.1 192.2L275.2 188.3Z" fill="#a278c8" fill-opacity="0.5" stroke="#a278c8" stroke-opacity="1.0" stroke-width="0.8"/>
<path d="M297.4 197.9L301.3 201.8L297.4 205.7L293.5 201.8Z" fill="#a278c8" fill-opacity="0.5" stroke="#a278c8" stroke-opacity="1.0" stroke-width="0.8"/>
<path d="M298.8 199.2L302.7 203.1L298.8 207.0L294.9 203.1Z" fill="#a278c8" fill-opacity="0.5" stroke="#a278c8" stroke-opacity="1.0" stroke-width="0.8"/>
<path d="M284.5 183.6L288.4 187.5L284.5 191.4L280.6 187.5Z" fill="#a278c8" fill-opacity="0.5" stroke="#a278c8" stroke-opacity="1.0" stroke-width="0.8"/>
<path d="M274.1 178.1L278.0 182.0L274.1 185.9L270.2 182.0Z" fill="#a278c8" fill-opacity="0.5" stroke="#a278c8" stroke-opacity="1.0" stroke-width="0.8"/>
<path d="M298.6 197.9L302.5 201.8L298.6 205.7L294.7 201.8Z" fill="#a278c8" fill-opacity="0.5" stroke="#a278c8" stroke-opacity="1.0" stroke-width="0.8"/>
<path d="M281.7 183.1L285.6 187.0L281.7 190.9L277.8 187.0Z" fill="#a278c8" fill-opacity="0.5" stroke="#a278c8" stroke-opacity="1.0" stroke-width="0.8"/>
<path d="M286.1 187.6L290.0 191.5L286.1 195.4L282.2 191.5Z" fill="#a278c8" fill-opacity="0.5" stroke="#a278c8" stroke-opacity="1.0" stroke-width="0.8"/>
<path d="M294.3 193.1L298.2 197.0L294.3 200.9L290.4 197.0Z" fill="#a278c8" fill-opacity="0.5" stroke="#a278c8" stroke-opacity="1.0" stroke-width="0.8"/>
<path d="M261.9 170.0L265.8 173.9L261.9 177.8L258.0 173.9Z" fill="#a278c8" fill-opacity="0.5" stroke="#a278c8" stroke-opacity="1.0" stroke-width="0.8"/>
<path d="M277.0 177.9L280.9 181.8L277.0 185.7L273.1 181.8Z" fill="#a278c8" fill-opacity="0.5" stroke="#a278c8" stroke-opacity="1.0" stroke-width="0.8"/>
<path d="M300.0 196.9L303.9 200.8L300.0 204.7L296.1 200.8Z" fill="#a278c8" fill-opacity="0.5" stroke="#a278c8" stroke-opacity="1.0" stroke-width="0.8"/>
<path d="M279.8 184.5L283.7 188.4L279.8 192.3L275.9 188.4Z" fill="#a278c8" fill-opacity="0.5" stroke="#a278c8" stroke-opacity="1.0" stroke-width="0.8"/>
<path d="M286.3 184.9L290.2 188.8L286.3 192.7L282.4 188.8Z" fill="#a278c8" fill-opacity="0.5" stroke="#a278c8" stroke-opacity="1.0" stroke-width="0.8"/>
<path d="M267.9 172.2L271.8 176.1L267.9 180.0L264.0 176.1Z" fill="#a278c8" fill-opacity="0.5" stroke="#a278c8" stroke-opacity="1.0" stroke-width="0.8"/>
<path d="M283.9 182.1L287.8 186.0L283.9 189.9L280.0 186.0Z" fill="#a278c8" fill-opacity="0.5" stroke="#a278c8" stroke-opacity="1.0" stroke-width="0.8"/>
<path d="M269.6 178.0L273.5 181.9L269.6 185.8L265.7 181.9Z" fill="#a278c8" fill-opacity="0.5" stroke="#a278c8" stroke-opacity="1.0" stroke-width="0.8"/>
<path d="M266.9 171.8L270.8 175.7L266.9 179.6L263.0 175.7Z" fill="#a278c8" fill-opacity="0.5" stroke="#a278c8" stroke-opacity="1.0" stroke-width="0.8"/>
<path d="M272.5 175.5L276.4 179.4L272.5 183.3L268.6 179.4Z" fill="#a278c8" fill-opacity="0.5" stroke="#a278c8" stroke-opacity="1.0" stroke-width="0.8"/>
<path d="M297.2 195.8L301.1 199.7L297.2 203.6L293.3 199.7Z" fill="#a278c8" fill-opacity="0.5" stroke="#a278c8" stroke-opacity="1.0" stroke-width="0.8"/>
<path d="M264.9 173.5L268.8 177.4L264.9 181.3L261.0 177.4Z" fill="#a278c8" fill-opacity="0.5" stroke="#a278c8" stroke-opacity="1.0" stroke-width="0.8"/>
<path d="M275.8 177.7L279.7 181.6L275.8 185.5L271.9 181.6Z" fill="#a278c8" fill-opacity="0.5" stroke="#a278c8" stroke-opacity="1.0" stroke-width="0.8"/>
<path d="M272.6 176.9L276.5 180.8L272.6 184.7L268.7 180.8Z" fill="#a278c8" fill-opacity="0.5" stroke="#a278c8" stroke-opacity="1.0" stroke-width="0.8"/>
<path d="M292.6 189.8L296.5 193.7L292.6 197.6L288.7 193.7Z" fill="#a278c8" fill-opacity="0.5" stroke="#a278c8" stroke-opacity="1.0" stroke-width="0.8"/>
<path d="M285.1 187.2L289.0 191.1L285.1 195.0L281.2 191.1Z" fill="#a278c8" fill-opacity="0.5" stroke="#a278c8" stroke-opacity="1.0" stroke-width="0.8"/>
<path d="M282.4 184.0L286.3 187.9L282.4 191.8L278.5 187.9Z" fill="#a278c8" fill-opacity="0.5" stroke="#a278c8" stroke-opacity="1.0" stroke-width="0.8"/>
<path d="M266.4 173.7L270.3 177.6L266.4 181.5L262.5 177.6Z" fill="#a278c8" fill-opacity="0.5" stroke="#a278c8" stroke-opacity="1.0" stroke-width="0.8"/>
<path d="M296.6 197.3L300.5 201.2L296.6 205.1L292.7 201.2Z" fill="#a278c8" fill-opacity="0.5" stroke="#a278c8" stroke-opacity="1.0" stroke-width="0.8"/>
<path d="M278.3 179.4L282.2 183.3L278.3 187.2L274.4 183.3Z" fill="#a278c8" fill-opacity="0.5" stroke="#a278c8" stroke-opacity="1.0" stroke-width="0.8"/>
<path d="M291.1 190.9L295.0 194.8L291.1 198.7L287.2 194.8Z" fill="#a278c8" fill-opacity="0.5" stroke="#a278c8" stroke-opacity="1.0" stroke-width="0.8"/>
<path d="M260.7 168.1L264.6 172.0L260.7 175.9L256.8 172.0Z" fill="#a278c8" fill-opacity="0.5" stroke="#a278c8" stroke-opacity="1.0" stroke-width="0.8"/>
<path d="M296.1 195.2L300.0 199.1L296.1 203.0L292.2 199.1Z" fill="#a278c8" fill-opacity="0.5" stroke="#a278c8" stroke-opacity="1.0" stroke-width="0.8"/>
<path d="M261.5 171.0L265.4 174.9L261.5 178.8L257.6 174.9Z" fill="#a278c8" fill-opacity="0.5" stroke="#a278c8" stroke-opacity="1.0" stroke-width="0.8"/>
<path d="M261.8 169.5L265.7 173.4L261.8 177.3L257.9 173.4Z" fill="#a278c8" fill-opacity="0.5" stroke="#a278c8" stroke-opacity="1.0" stroke-width="0.8"/>
<circle cx="274.6" cy="188.4" r="3.10" fill="#dbb346" fill-opacity="0.5" stroke="#dbb346" stroke-opacity="1.0" stroke-width="0.8"/>
<circle cx="270.9" cy="189.5" r="3.10" fill="#dbb346" fill-opacity="0.5" stroke="#dbb346" stroke-opacity="1.0" stroke-width="0.8"/>
<circle cx="272.0" cy="186.3" r="3.10" fill="#dbb346" fill-opacity="0.5" stroke="#dbb346" stroke-opacity="1.0" stroke-width="0.8"/>
<circle cx="268.6" cy="184.8" r="3.10" fill="#dbb346" fill-opacity="0.5" stroke="#dbb346" stroke-opacity="1.0" stroke-width="0.8"/>
<circle cx="265.4" cy="182.1" r="3.10" fill="#dbb346" fill-opacity="0.5" stroke="#dbb346" stroke-opacity="1.0" stroke-width="0.8"/>
<circle cx="264.6" cy="183.4" r="3.10" fill="#dbb346" fill-opacity="0.5" stroke="#dbb346" stroke-opacity="1.0" stroke-width="0.8"/>
<circle cx="265.3" cy="184.6" r="3.10" fill="#dbb346" fill-opacity="0.5" stroke="#dbb346" stroke-opacity="1.0" stroke-width="0.8"/>
<circle cx="272.2" cy="188.4" r="3.10" fill="#dbb346" fill-opacity="0.5" stroke="#dbb346" stroke-opacity="1.0" stroke-width="0.8"/>
<circle cx="271.4" cy="188.0" r="3.10" fill="#dbb346" fill-opacity="0.5" stroke="#dbb346" stroke-opacity="1.0" stroke-width="0.8"/>
<circle cx="269.2" cy="183.1" r="3.10" fill="#dbb346" fill-opacity="0.5" stroke="#dbb346" stroke-opacity="1.0" stroke-width="0.8"/>
<circle cx="271.1" cy="189.2" r="3.10" fill="#dbb346" fill-opacity="0.5" stroke="#dbb346" stroke-opacity="1.0" stroke-width="0.8"/>
<circle cx="267.4" cy="183.6" r="3.10" fill="#dbb346" fill-opacity="0.5" stroke="#dbb346" stroke-opacity="1.0" stroke-width="0.8"/>
<circle cx="272.9" cy="188.3" r="3.10" fill="#dbb346" fill-opacity="0.5" stroke="#dbb346" stroke-opacity="1.0" stroke-width="0.8"/>
<circle cx="271.8" cy="184.5" r="3.10" fill="#dbb346" fill-opacity="0.5" stroke="#dbb346" stroke-opacity="1.0" stroke-width="0.8"/>
<circle cx="272.5" cy="187.8" r="3.10" fill="#dbb346" fill-opacity="0.5" stroke="#dbb346" stroke-opacity="1.0" stroke-width="0.8"/>
<circle cx="265.9" cy="183.6" r="3.10" fill="#dbb346" fill-opacity="0.5" stroke="#dbb346" stroke-opacity="1.0" stroke-width="0.8"/>
<circle cx="268.9" cy="183.5" r="3.10" fill="#dbb346" fill-opacity="0.5" stroke="#dbb346" stroke-opacity="1.0" stroke-width="0.8"/>
<circle cx="266.9" cy="184.9" r="3.10" fill="#dbb346" fill-opacity="0.5" stroke="#dbb346" stroke-opacity="1.0" stroke-width="0.8"/>
<circle cx="271.1" cy="188.1" r="3.10" fill="#dbb346" fill-opacity="0.5" stroke="#dbb346" stroke-opacity="1.0" stroke-width="0.8"/>
<circle cx="269.1" cy="183.8" r="3.10" fill="#dbb346" fill-opacity="0.5" stroke="#dbb346" stroke-opacity="1.0" stroke-width="0.8"/>
<circle cx="270.6" cy="187.1" r="3.10" fill="#dbb346" fill-opacity="0.5" stroke="#dbb346" stroke-opacity="1.0" stroke-width="0.8"/>
<circle cx="265.9" cy="184.2" r="3.10" fill="#dbb346" fill-opacity="0.5" stroke="#dbb346" stroke-opacity="1.0" stroke-width="0.8"/>
<path d="M289.4 194.0L293.6 201.3L285.2 201.3Z" fill="#bd9fdc" fill-opacity="0.5" stroke="#bd9fdc" stroke-opacity="1.0" stroke-width="0.8"/>
<path d="M284.2 190.2L288.4 197.5L280.0 197.5Z" fill="#bd9fdc" fill-opacity="0.5" stroke="#bd9fdc" stroke-opacity="1.0" stroke-width="0.8"/>
<path d="M301.0 198.6L305.2 205.9L296.8 205.9Z" fill="#bd9fdc" fill-opacity="0.5" stroke="#bd9fdc" stroke-opacity="1.0" stroke-width="0.8"/>
<path d="M297.3 193.2L301.5 200.5L293.1 200.5Z" fill="#bd9fdc" fill-opacity="0.5" stroke="#bd9fdc" stroke-opacity="1.0" stroke-width="0.8"/>
<path d="M284.5 189.1L288.7 196.4L280.3 196.4Z" fill="#bd9fdc" fill-opacity="0.5" stroke="#bd9fdc" stroke-opacity="1.0" stroke-width="0.8"/>
<path d="M304.4 200.4L308.6 207.7L300.2 207.7Z" fill="#bd9fdc" fill-opacity="0.5" stroke="#bd9fdc" stroke-opacity="1.0" stroke-width="0.8"/>
<path d="M308.7 203.7L312.9 211.0L304.5 211.0Z" fill="#bd9fdc" fill-opacity="0.5" stroke="#bd9fdc" stroke-opacity="1.0" stroke-width="0.8"/>
<path d="M305.3 200.5L309.5 207.8L301.1 207.8Z" fill="#bd9fdc" fill-opacity="0.5" stroke="#bd9fdc" stroke-opacity="1.0" stroke-width="0.8"/>
<path d="M298.2 198.0L302.4 205.3L294.0 205.3Z" fill="#bd9fdc" fill-opacity="0.5" stroke="#bd9fdc" stroke-opacity="1.0" stroke-width="0.8"/>
<path d="M289.0 192.2L293.2 199.5L284.8 199.5Z" fill="#bd9fdc" fill-opacity="0.5" stroke="#bd9fdc" stroke-opacity="1.0" stroke-width="0.8"/>
<path d="M283.5 192.5L287.7 199.8L279.3 199.8Z" fill="#bd9fdc" fill-opacity="0.5" stroke="#bd9fdc" stroke-opacity="1.0" stroke-width="0.8"/>
<path d="M289.4 191.4L293.6 198.7L285.2 198.7Z" fill="#bd9fdc" fill-opacity="0.5" stroke="#bd9fdc" stroke-opacity="1.0" stroke-width="0.8"/>
<path d="M296.1 191.5L300.3 198.8L291.9 198.8Z" fill="#bd9fdc" fill-opacity="0.5" stroke="#bd9fdc" stroke-opacity="1.0" stroke-width="0.8"/>
<path d="M305.6 200.3L309.8 207.6L301.4 207.6Z" fill="#bd9fdc" fill-opacity="0.5" stroke="#bd9fdc" stroke-opacity="1.0" stroke-width="0.8"/>
<path d="M309.1 203.3L313.3 210.6L304.9 210.6Z" fill="#bd9fdc" fill-opacity="0.5" stroke="#bd9fdc" stroke-opacity="1.0" stroke-width="0.8"/>
<circle cx="253.5" cy="199.2" r="3.10" fill="#dbb346" fill-opacity="0.5" stroke="#dbb346" stroke-opacity="1.0" stroke-width="0.8"/>
<circle cx="261.0" cy="182.0" r="3.10" fill="#dbb346" fill-opacity="0.5" stroke="#dbb346" stroke-opacity="1.0" stroke-width="0.8"/>
<path d="M247.8 185.3L256.2 185.3L252.0 192.6Z" fill="#e05b38" fill-opacity="0.5" stroke="#e05b38" stroke-opacity="1.0" stroke-width="0.8"/>
<path d="M267.7 205.9L276.1 205.9L271.9 213.2Z" fill="#e05b38" fill-opacity="0.5" stroke="#e05b38" stroke-opacity="1.0" stroke-width="0.8"/>
<path d="M274.8 204.9L283.2 204.9L279.0 212.2Z" fill="#e05b38" fill-opacity="0.5" stroke="#e05b38" stroke-opacity="1.0" stroke-width="0.8"/>
<rect x="293.3" y="200.3" width="5.6" height="5.6" fill="#de9c3c" fill-opacity="0.5" stroke="#de9c3c" stroke-opacity="1.0" stroke-width="0.8"/>
<rect x="301.6" y="204.5" width="5.6" height="5.6" fill="#de9c3c" fill-opacity="0.5" stroke="#de9c3c" stroke-opacity="1.0" stroke-width="0.8"/>
<rect x="264.0" y="216.6" width="5.6" height="5.6" fill="#de9c3c" fill-opacity="0.5" stroke="#de9c3c" stroke-opacity="1.0" stroke-width="0.8"/>
<rect x="269.1" y="213.6" width="5.6" height="5.6" fill="#de9c3c" fill-opacity="0.5" stroke="#de9c3c" stroke-opacity="1.0" stroke-width="0.8"/>
<rect x="271.2" y="219.7" width="5.6" height="5.6" fill="#de9c3c" fill-opacity="0.5" stroke="#de9c3c" stroke-opacity="1.0" stroke-width="0.8"/>
<rect x="270.2" y="209.5" width="5.6" height="5.6" fill="#de9c3c" fill-opacity="0.5" stroke="#de9c3c" stroke-opacity="1.0" stroke-width="0.8"/>
<rect x="253.8" y="226.9" width="5.6" height="5.6" fill="#de9c3c" fill-opacity="0.5" stroke="#de9c3c" stroke-opacity="1.0" stroke-width="0.8"/>
<rect x="262.0" y="226.9" width="5.6" height="5.6" fill="#de9c3c" fill-opacity="0.5" stroke="#de9c3c" stroke-opacity="1.0" stroke-width="0.8"/>
<rect x="267.1" y="227.9" width="5.6" height="5.6" fill="#de9c3c" fill-opacity="0.5" stroke="#de9c3c" stroke-opacity="1.0" stroke-width="0.8"/>
<rect x="273.2" y="226.9" width="5.6" height="5.6" fill="#de9c3c" fill-opacity="0.5" stroke="#de9c3c" stroke-opacity="1.0" stroke-width="0.8"/>
<rect x="265.0" y="232.0" width="5.6" height="5.6" fill="#de9c3c" fill-opacity="0.5" stroke="#de9c3c" stroke-opacity="1.0" stroke-width="0.8"/>
<rect x="271.2" y="230.9" width="5.6" height="5.6" fill="#de9c3c" fill-opacity="0.5" stroke="#de9c3c" stroke-opacity="1.0" stroke-width="0.8"/>
<rect x="252.8" y="235.0" width="5.6" height="5.6" fill="#de9c3c" fill-opacity="0.5" stroke="#de9c3c" stroke-opacity="1.0" stroke-width="0.8"/>
<rect x="256.9" y="236.1" width="5.6" height="5.6" fill="#de9c3c" fill-opacity="0.5" stroke="#de9c3c" stroke-opacity="1.0" stroke-width="0.8"/>
<rect x="281.4" y="227.9" width="5.6" height="5.6" fill="#de9c3c" fill-opacity="0.5" stroke="#de9c3c" stroke-opacity="1.0" stroke-width="0.8"/>
<rect x="284.5" y="217.6" width="5.6" height="5.6" fill="#de9c3c" fill-opacity="0.5" stroke="#de9c3c" stroke-opacity="1.0" stroke-width="0.8"/>
<rect x="284.5" y="211.5" width="5.6" height="5.6" fill="#de9c3c" fill-opacity="0.5" stroke="#de9c3c" stroke-opacity="1.0" stroke-width="0.8"/>
<rect x="291.6" y="211.5" width="5.6" height="5.6" fill="#de9c3c" fill-opacity="0.5" stroke="#de9c3c" stroke-opacity="1.0" stroke-width="0.8"/>
<rect x="288.5" y="207.4" width="5.6" height="5.6" fill="#de9c3c" fill-opacity="0.5" stroke="#de9c3c" stroke-opacity="1.0" stroke-width="0.8"/>
<rect x="297.8" y="212.5" width="5.6" height="5.6" fill="#de9c3c" fill-opacity="0.5" stroke="#de9c3c" stroke-opacity="1.0" stroke-width="0.8"/>
<rect x="293.7" y="200.3" width="5.6" height="5.6" fill="#de9c3c" fill-opacity="0.5" stroke="#de9c3c" stroke-opacity="1.0" stroke-width="0.8"/>
<rect x="301.8" y="204.4" width="5.6" height="5.6" fill="#de9c3c" fill-opacity="0.5" stroke="#de9c3c" stroke-opacity="1.0" stroke-width="0.8"/>
<rect x="273.2" y="203.3" width="5.6" height="5.6" fill="#de9c3c" fill-opacity="0.5" stroke="#de9c3c" stroke-opacity="1.0" stroke-width="0.8"/>
<rect x="269.2" y="223.2" width="5.6" height="5.6" fill="#de9c3c" fill-opacity="0.5" stroke="#de9c3c" stroke-opacity="1.0" stroke-width="0.8"/>
<rect x="267.2" y="219.2" width="5.6" height="5.6" fill="#de9c3c" fill-opacity="0.5" stroke="#de9c3c" stroke-opacity="1.0" stroke-width="0.8"/>
<path d="M308.1 218.9L312.0 222.8L308.1 226.7L304.2 222.8Z" fill="#e08b40" fill-opacity="0.5" stroke="#e08b40" stroke-opacity="1.0" stroke-width="0.8"/>
<path d="M309.3 231.4L313.2 235.3L309.3 239.2L305.4 235.3Z" fill="#e08b40" fill-opacity="0.5" stroke="#e08b40" stroke-opacity="1.0" stroke-width="0.8"/>
<path d="M332.0 226.3L335.9 230.2L332.0 234.1L328.1 230.2Z" fill="#e08b40" fill-opacity="0.5" stroke="#e08b40" stroke-opacity="1.0" stroke-width="0.8"/>
<path d="M314.0 226.1L317.9 230.0L314.0 233.9L310.1 230.0Z" fill="#e08b40" fill-opacity="0.5" stroke="#e08b40" stroke-opacity="1.0" stroke-width="0.8"/>
<path d="M318.0 223.1L321.9 227.0L318.0 230.9L314.1 227.0Z" fill="#e08b40" fill-opacity="0.5" stroke="#e08b40" stroke-opacity="1.0" stroke-width="0.8"/>
<path d="M321.0 227.1L324.9 231.0L321.0 234.9L317.1 231.0Z" fill="#e08b40" fill-opacity="0.5" stroke="#e08b40" stroke-opacity="1.0" stroke-width="0.8"/>
<path d="M317.0 230.1L320.9 234.0L317.0 237.9L313.1 234.0Z" fill="#e08b40" fill-opacity="0.5" stroke="#e08b40" stroke-opacity="1.0" stroke-width="0.8"/>
<path d="M324.0 225.1L327.9 229.0L324.0 232.9L320.1 229.0Z" fill="#e08b40" fill-opacity="0.5" stroke="#e08b40" stroke-opacity="1.0" stroke-width="0.8"/>
<path d="M312.0 229.1L315.9 233.0L312.0 236.9L308.1 233.0Z" fill="#e08b40" fill-opacity="0.5" stroke="#e08b40" stroke-opacity="1.0" stroke-width="0.8"/>
<path d="M272.5 244.8L276.4 248.7L272.5 252.6L268.6 248.7Z" fill="#e08b40" fill-opacity="0.5" stroke="#e08b40" stroke-opacity="1.0" stroke-width="0.8"/>
<path d="M260.7 251.7L264.6 255.6L260.7 259.5L256.8 255.6Z" fill="#e08b40" fill-opacity="0.5" stroke="#e08b40" stroke-opacity="1.0" stroke-width="0.8"/>
<path d="M265.2 253.0L269.1 256.9L265.2 260.8L261.3 256.9Z" fill="#e08b40" fill-opacity="0.5" stroke="#e08b40" stroke-opacity="1.0" stroke-width="0.8"/>
<path d="M236.8 272.4L240.7 276.3L236.8 280.2L232.9 276.3Z" fill="#e08b40" fill-opacity="0.5" stroke="#e08b40" stroke-opacity="1.0" stroke-width="0.8"/>
<path d="M226.6 275.0L230.5 278.9L226.6 282.8L222.7 278.9Z" fill="#e08b40" fill-opacity="0.5" stroke="#e08b40" stroke-opacity="1.0" stroke-width="0.8"/>
<path d="M223.6 284.0L227.5 287.9L223.6 291.8L219.7 287.9Z" fill="#e08b40" fill-opacity="0.5" stroke="#e08b40" stroke-opacity="1.0" stroke-width="0.8"/>
<path d="M308.7 219.0L312.6 222.9L308.7 226.8L304.8 222.9Z" fill="#e08b40" fill-opacity="0.5" stroke="#e08b40" stroke-opacity="1.0" stroke-width="0.8"/>
<path d="M310.8 232.5L314.7 236.4L310.8 240.3L306.9 236.4Z" fill="#e08b40" fill-opacity="0.5" stroke="#e08b40" stroke-opacity="1.0" stroke-width="0.8"/>
<path d="M332.2 226.8L336.1 230.7L332.2 234.6L328.3 230.7Z" fill="#e08b40" fill-opacity="0.5" stroke="#e08b40" stroke-opacity="1.0" stroke-width="0.8"/>
<path d="M306.0 222.1L309.9 226.0L306.0 229.9L302.1 226.0Z" fill="#e08b40" fill-opacity="0.5" stroke="#e08b40" stroke-opacity="1.0" stroke-width="0.8"/>
<path d="M312.0 228.1L315.9 232.0L312.0 235.9L308.1 232.0Z" fill="#e08b40" fill-opacity="0.5" stroke="#e08b40" stroke-opacity="1.0" stroke-width="0.8"/>
<path d="M316.0 225.1L319.9 229.0L316.0 232.9L312.1 229.0Z" fill="#e08b40" fill-opacity="0.5" stroke="#e08b40" stroke-opacity="1.0" stroke-width="0.8"/>
<path d="M320.0 229.1L323.9 233.0L320.0 236.9L316.1 233.0Z" fill="#e08b40" fill-opacity="0.5" stroke="#e08b40" stroke-opacity="1.0" stroke-width="0.8"/>
<path d="M309.0 225.1L312.9 229.0L309.0 232.9L305.1 229.0Z" fill="#e08b40" fill-opacity="0.5" stroke="#e08b40" stroke-opacity="1.0" stroke-width="0.8"/>
<path d="M315.0 232.1L318.9 236.0L315.0 239.9L311.1 236.0Z" fill="#e08b40" fill-opacity="0.5" stroke="#e08b40" stroke-opacity="1.0" stroke-width="0.8"/>
<path d="M325.0 226.1L328.9 230.0L325.0 233.9L321.1 230.0Z" fill="#e08b40" fill-opacity="0.5" stroke="#e08b40" stroke-opacity="1.0" stroke-width="0.8"/>
<path d="M323.0 212.3L327.2 219.6L318.8 219.6Z" fill="#e06f30" fill-opacity="0.5" stroke="#e06f30" stroke-opacity="1.0" stroke-width="0.8"/>
<path d="M322.5 212.4L326.7 219.7L318.3 219.7Z" fill="#e06f30" fill-opacity="0.5" stroke="#e06f30" stroke-opacity="1.0" stroke-width="0.8"/>
<path d="M320.7 213.8L324.9 221.1L316.5 221.1Z" fill="#e06f30" fill-opacity="0.5" stroke="#e06f30" stroke-opacity="1.0" stroke-width="0.8"/>
<path d="M318.6 218.3L322.8 225.6L314.4 225.6Z" fill="#e06f30" fill-opacity="0.5" stroke="#e06f30" stroke-opacity="1.0" stroke-width="0.8"/>
<path d="M323.8 217.2L328.0 224.5L319.6 224.5Z" fill="#e06f30" fill-opacity="0.5" stroke="#e06f30" stroke-opacity="1.0" stroke-width="0.8"/>
<path d="M325.0 218.9L329.2 226.2L320.8 226.2Z" fill="#e06f30" fill-opacity="0.5" stroke="#e06f30" stroke-opacity="1.0" stroke-width="0.8"/>
<path d="M320.8 212.2L325.0 219.5L316.6 219.5Z" fill="#e06f30" fill-opacity="0.5" stroke="#e06f30" stroke-opacity="1.0" stroke-width="0.8"/>
<path d="M324.4 213.4L328.6 220.7L320.2 220.7Z" fill="#e06f30" fill-opacity="0.5" stroke="#e06f30" stroke-opacity="1.0" stroke-width="0.8"/>
<path d="M325.8 219.9L330.0 227.2L321.6 227.2Z" fill="#e06f30" fill-opacity="0.5" stroke="#e06f30" stroke-opacity="1.0" stroke-width="0.8"/>
<path d="M319.1 214.8L323.3 222.1L314.9 222.1Z" fill="#e06f30" fill-opacity="0.5" stroke="#e06f30" stroke-opacity="1.0" stroke-width="0.8"/>
<path d="M322.7 215.8L326.9 223.1L318.5 223.1Z" fill="#e06f30" fill-opacity="0.5" stroke="#e06f30" stroke-opacity="1.0" stroke-width="0.8"/>
<path d="M324.1 220.8L328.3 228.1L319.9 228.1Z" fill="#e06f30" fill-opacity="0.5" stroke="#e06f30" stroke-opacity="1.0" stroke-width="0.8"/>
<path d="M321.4 216.8L325.6 224.1L317.2 224.1Z" fill="#e06f30" fill-opacity="0.5" stroke="#e06f30" stroke-opacity="1.0" stroke-width="0.8"/>
<path d="M317.3 211.8L321.5 219.1L313.1 219.1Z" fill="#e06f30" fill-opacity="0.5" stroke="#e06f30" stroke-opacity="1.0" stroke-width="0.8"/>
<path d="M317.0 215.9L321.2 223.2L312.8 223.2Z" fill="#e06f30" fill-opacity="0.5" stroke="#e06f30" stroke-opacity="1.0" stroke-width="0.8"/>
<path d="M315.0 213.9L319.2 221.2L310.8 221.2Z" fill="#e06f30" fill-opacity="0.5" stroke="#e06f30" stroke-opacity="1.0" stroke-width="0.8"/>
<path d="M318.1 214.5L322.3 221.8L313.9 221.8Z" fill="#e06f30" fill-opacity="0.5" stroke="#e06f30" stroke-opacity="1.0" stroke-width="0.8"/>
<path d="M325.6 220.6L329.8 227.9L321.4 227.9Z" fill="#e06f30" fill-opacity="0.5" stroke="#e06f30" stroke-opacity="1.0" stroke-width="0.8"/>
<path d="M322.5 214.6L326.7 221.9L318.3 221.9Z" fill="#e06f30" fill-opacity="0.5" stroke="#e06f30" stroke-opacity="1.0" stroke-width="0.8"/>
<path d="M322.0 218.0L326.2 225.3L317.8 225.3Z" fill="#e06f30" fill-opacity="0.5" stroke="#e06f30" stroke-opacity="1.0" stroke-width="0.8"/>
<path d="M322.4 218.0L326.6 225.3L318.2 225.3Z" fill="#e06f30" fill-opacity="0.5" stroke="#e06f30" stroke-opacity="1.0" stroke-width="0.8"/>
<path d="M326.6 214.1L330.8 221.4L322.4 221.4Z" fill="#e06f30" fill-opacity="0.5" stroke="#e06f30" stroke-opacity="1.0" stroke-width="0.8"/>
<path d="M321.4 218.0L325.6 225.3L317.2 225.3Z" fill="#e06f30" fill-opacity="0.5" stroke="#e06f30" stroke-opacity="1.0" stroke-width="0.8"/>
<path d="M325.5 217.9L329.7 225.2L321.3 225.2Z" fill="#e06f30" fill-opacity="0.5" stroke="#e06f30" stroke-opacity="1.0" stroke-width="0.8"/>
<path d="M323.5 214.4L327.7 221.7L319.3 221.7Z" fill="#e06f30" fill-opacity="0.5" stroke="#e06f30" stroke-opacity="1.0" stroke-width="0.8"/>
<path d="M322.6 216.8L326.8 224.1L318.4 224.1Z" fill="#e06f30" fill-opacity="0.5" stroke="#e06f30" stroke-opacity="1.0" stroke-width="0.8"/>
<path d="M321.8 215.2L326.0 222.5L317.6 222.5Z" fill="#e06f30" fill-opacity="0.5" stroke="#e06f30" stroke-opacity="1.0" stroke-width="0.8"/>
<path d="M323.7 214.5L327.9 221.8L319.5 221.8Z" fill="#e06f30" fill-opacity="0.5" stroke="#e06f30" stroke-opacity="1.0" stroke-width="0.8"/>
<path d="M319.0 212.6L323.2 219.9L314.8 219.9Z" fill="#e06f30" fill-opacity="0.5" stroke="#e06f30" stroke-opacity="1.0" stroke-width="0.8"/>
<path d="M328.2 216.7L332.4 224.0L324.0 224.0Z" fill="#e06f30" fill-opacity="0.5" stroke="#e06f30" stroke-opacity="1.0" stroke-width="0.8"/>
<path d="M323.4 220.1L327.6 227.4L319.2 227.4Z" fill="#e06f30" fill-opacity="0.5" stroke="#e06f30" stroke-opacity="1.0" stroke-width="0.8"/>
<path d="M317.6 211.4L321.8 218.7L313.4 218.7Z" fill="#e06f30" fill-opacity="0.5" stroke="#e06f30" stroke-opacity="1.0" stroke-width="0.8"/>
<path d="M326.7 217.8L330.9 225.1L322.5 225.1Z" fill="#e06f30" fill-opacity="0.5" stroke="#e06f30" stroke-opacity="1.0" stroke-width="0.8"/>
<path d="M324.0 214.3L328.2 221.6L319.8 221.6Z" fill="#e06f30" fill-opacity="0.5" stroke="#e06f30" stroke-opacity="1.0" stroke-width="0.8"/>
<path d="M316.9 215.6L321.1 222.9L312.7 222.9Z" fill="#e06f30" fill-opacity="0.5" stroke="#e06f30" stroke-opacity="1.0" stroke-width="0.8"/>
<path d="M320.3 215.1L324.5 222.4L316.1 222.4Z" fill="#e06f30" fill-opacity="0.5" stroke="#e06f30" stroke-opacity="1.0" stroke-width="0.8"/>
<path d="M323.7 217.1L327.9 224.4L319.5 224.4Z" fill="#e06f30" fill-opacity="0.5" stroke="#e06f30" stroke-opacity="1.0" stroke-width="0.8"/>
<path d="M318.7 216.4L322.9 223.7L314.5 223.7Z" fill="#e06f30" fill-opacity="0.5" stroke="#e06f30" stroke-opacity="1.0" stroke-width="0.8"/>
<path d="M315.3 212.3L319.5 219.6L311.1 219.6Z" fill="#e06f30" fill-opacity="0.5" stroke="#e06f30" stroke-opacity="1.0" stroke-width="0.8"/>
<path d="M326.5 216.7L330.7 224.0L322.3 224.0Z" fill="#e06f30" fill-opacity="0.5" stroke="#e06f30" stroke-opacity="1.0" stroke-width="0.8"/>
<path d="M317.5 211.4L321.7 218.7L313.3 218.7Z" fill="#e06f30" fill-opacity="0.5" stroke="#e06f30" stroke-opacity="1.0" stroke-width="0.8"/>
<path d="M319.1 214.2L323.3 221.5L314.9 221.5Z" fill="#e06f30" fill-opacity="0.5" stroke="#e06f30" stroke-opacity="1.0" stroke-width="0.8"/>
<path d="M316.7 217.0L320.9 224.3L312.5 224.3Z" fill="#e06f30" fill-opacity="0.5" stroke="#e06f30" stroke-opacity="1.0" stroke-width="0.8"/>
<path d="M319.2 217.3L323.4 224.6L315.0 224.6Z" fill="#e06f30" fill-opacity="0.5" stroke="#e06f30" stroke-opacity="1.0" stroke-width="0.8"/>
<path d="M318.7 216.0L322.9 223.3L314.5 223.3Z" fill="#e06f30" fill-opacity="0.5" stroke="#e06f30" stroke-opacity="1.0" stroke-width="0.8"/>
<path d="M318.7 228.3L322.6 232.2L318.7 236.1L314.8 232.2Z" fill="#e08b40" fill-opacity="0.5" stroke="#e08b40" stroke-opacity="1.0" stroke-width="0.8"/>
<path d="M320.8 222.7L324.7 226.6L320.8 230.5L316.9 226.6Z" fill="#e08b40" fill-opacity="0.5" stroke="#e08b40" stroke-opacity="1.0" stroke-width="0.8"/>
<path d="M317.7 228.4L321.6 232.3L317.7 236.2L313.8 232.3Z" fill="#e08b40" fill-opacity="0.5" stroke="#e08b40" stroke-opacity="1.0" stroke-width="0.8"/>
<path d="M312.5 228.2L316.4 232.1L312.5 236.0L308.6 232.1Z" fill="#e08b40" fill-opacity="0.5" stroke="#e08b40" stroke-opacity="1.0" stroke-width="0.8"/>
<path d="M318.3 226.7L322.2 230.6L318.3 234.5L314.4 230.6Z" fill="#e08b40" fill-opacity="0.5" stroke="#e08b40" stroke-opacity="1.0" stroke-width="0.8"/>
<path d="M315.2 226.4L319.1 230.3L315.2 234.2L311.3 230.3Z" fill="#e08b40" fill-opacity="0.5" stroke="#e08b40" stroke-opacity="1.0" stroke-width="0.8"/>
<path d="M314.8 224.7L318.7 228.6L314.8 232.5L310.9 228.6Z" fill="#e08b40" fill-opacity="0.5" stroke="#e08b40" stroke-opacity="1.0" stroke-width="0.8"/>
<path d="M313.7 225.4L317.6 229.3L313.7 233.2L309.8 229.3Z" fill="#e08b40" fill-opacity="0.5" stroke="#e08b40" stroke-opacity="1.0" stroke-width="0.8"/>
<path d="M315.8 225.3L319.7 229.2L315.8 233.1L311.9 229.2Z" fill="#e08b40" fill-opacity="0.5" stroke="#e08b40" stroke-opacity="1.0" stroke-width="0.8"/>
<path d="M315.1 224.8L319.0 228.7L315.1 232.6L311.2 228.7Z" fill="#e08b40" fill-opacity="0.5" stroke="#e08b40" stroke-opacity="1.0" stroke-width="0.8"/>
<path d="M313.0 229.2L316.9 233.1L313.0 237.0L309.1 233.1Z" fill="#e08b40" fill-opacity="0.5" stroke="#e08b40" stroke-opacity="1.0" stroke-width="0.8"/>
<path d="M315.8 223.9L319.7 227.8L315.8 231.7L311.9 227.8Z" fill="#e08b40" fill-opacity="0.5" stroke="#e08b40" stroke-opacity="1.0" stroke-width="0.8"/>
<path d="M319.9 224.0L323.8 227.9L319.9 231.8L316.0 227.9Z" fill="#e08b40" fill-opacity="0.5" stroke="#e08b40" stroke-opacity="1.0" stroke-width="0.8"/>
<path d="M314.6 230.3L318.5 234.2L314.6 238.1L310.7 234.2Z" fill="#e08b40" fill-opacity="0.5" stroke="#e08b40" stroke-opacity="1.0" stroke-width="0.8"/>
<path d="M325.1 242.3L333.5 242.3L329.3 249.6Z" fill="#e05b38" fill-opacity="0.5" stroke="#e05b38" stroke-opacity="1.0" stroke-width="0.8"/>
<path d="M323.3 246.5L331.7 246.5L327.5 253.8Z" fill="#e05b38" fill-opacity="0.5" stroke="#e05b38" stroke-opacity="1.0" stroke-width="0.8"/>
<path d="M325.5 242.8L333.9 242.8L329.7 250.1Z" fill="#e05b38" fill-opacity="0.5" stroke="#e05b38" stroke-opacity="1.0" stroke-width="0.8"/>
<path d="M324.6 239.9L333.0 239.9L328.8 247.2Z" fill="#e05b38" fill-opacity="0.5" stroke="#e05b38" stroke-opacity="1.0" stroke-width="0.8"/>
<path d="M328.3 243.9L336.7 243.9L332.5 251.2Z" fill="#e05b38" fill-opacity="0.5" stroke="#e05b38" stroke-opacity="1.0" stroke-width="0.8"/>
<path d="M321.0 239.1L329.4 239.1L325.2 246.4Z" fill="#e05b38" fill-opacity="0.5" stroke="#e05b38" stroke-opacity="1.0" stroke-width="0.8"/>
<path d="M329.9 239.0L338.3 239.0L334.1 246.3Z" fill="#e05b38" fill-opacity="0.5" stroke="#e05b38" stroke-opacity="1.0" stroke-width="0.8"/>
<path d="M317.4 244.5L325.8 244.5L321.6 251.8Z" fill="#e05b38" fill-opacity="0.5" stroke="#e05b38" stroke-opacity="1.0" stroke-width="0.8"/>
<path d="M329.7 247.1L338.1 247.1L333.9 254.4Z" fill="#e05b38" fill-opacity="0.5" stroke="#e05b38" stroke-opacity="1.0" stroke-width="0.8"/>
<path d="M325.7 244.1L334.1 244.1L329.9 251.4Z" fill="#e05b38" fill-opacity="0.5" stroke="#e05b38" stroke-opacity="1.0" stroke-width="0.8"/>
<path d="M316.0 239.6L324.4 239.6L320.2 246.9Z" fill="#e05b38" fill-opacity="0.5" stroke="#e05b38" stroke-opacity="1.0" stroke-width="0.8"/>
<path d="M317.4 243.0L325.8 243.0L321.6 250.3Z" fill="#e05b38" fill-opacity="0.5" stroke="#e05b38" stroke-opacity="1.0" stroke-width="0.8"/>
<path d="M320.0 239.9L328.4 239.9L324.2 247.2Z" fill="#e05b38" fill-opacity="0.5" stroke="#e05b38" stroke-opacity="1.0" stroke-width="0.8"/>
<path d="M323.9 238.5L332.3 238.5L328.1 245.8Z" fill="#e05b38" fill-opacity="0.5" stroke="#e05b38" stroke-opacity="1.0" stroke-width="0.8"/>
<path d="M329.6 242.2L338.0 242.2L333.8 249.5Z" fill="#e05b38" fill-opacity="0.5" stroke="#e05b38" stroke-opacity="1.0" stroke-width="0.8"/>
<path d="M326.3 242.9L334.7 242.9L330.5 250.2Z" fill="#e05b38" fill-opacity="0.5" stroke="#e05b38" stroke-opacity="1.0" stroke-width="0.8"/>
<path d="M326.6 242.7L335.0 242.7L330.8 250.0Z" fill="#e05b38" fill-opacity="0.5" stroke="#e05b38" stroke-opacity="1.0" stroke-width="0.8"/>
<path d="M320.7 242.3L329.1 242.3L324.9 249.6Z" fill="#e05b38" fill-opacity="0.5" stroke="#e05b38" stroke-opacity="1.0" stroke-width="0.8"/>
<path d="M330.1 247.2L338.5 247.2L334.3 254.5Z" fill="#e05b38" fill-opacity="0.5" stroke="#e05b38" stroke-opacity="1.0" stroke-width="0.8"/>
<path d="M326.7 245.8L335.1 245.8L330.9 253.1Z" fill="#e05b38" fill-opacity="0.5" stroke="#e05b38" stroke-opacity="1.0" stroke-width="0.8"/>
<path d="M319.8 241.1L328.2 241.1L324.0 248.4Z" fill="#e05b38" fill-opacity="0.5" stroke="#e05b38" stroke-opacity="1.0" stroke-width="0.8"/>
<path d="M317.2 240.8L325.6 240.8L321.4 248.1Z" fill="#e05b38" fill-opacity="0.5" stroke="#e05b38" stroke-opacity="1.0" stroke-width="0.8"/>
<path d="M322.5 245.1L330.9 245.1L326.7 252.4Z" fill="#e05b38" fill-opacity="0.5" stroke="#e05b38" stroke-opacity="1.0" stroke-width="0.8"/>
<path d="M322.3 245.8L330.7 245.8L326.5 253.1Z" fill="#e05b38" fill-opacity="0.5" stroke="#e05b38" stroke-opacity="1.0" stroke-width="0.8"/>
<path d="M328.3 246.8L336.7 246.8L332.5 254.1Z" fill="#e05b38" fill-opacity="0.5" stroke="#e05b38" stroke-opacity="1.0" stroke-width="0.8"/>
<path d="M319.3 238.2L327.7 238.2L323.5 245.5Z" fill="#e05b38" fill-opacity="0.5" stroke="#e05b38" stroke-opacity="1.0" stroke-width="0.8"/>
<path d="M323.4 246.4L331.8 246.4L327.6 253.7Z" fill="#e05b38" fill-opacity="0.5" stroke="#e05b38" stroke-opacity="1.0" stroke-width="0.8"/>
<path d="M322.4 247.0L330.8 247.0L326.6 254.3Z" fill="#e05b38" fill-opacity="0.5" stroke="#e05b38" stroke-opacity="1.0" stroke-width="0.8"/>
<path d="M326.8 238.9L335.2 238.9L331.0 246.2Z" fill="#e05b38" fill-opacity="0.5" stroke="#e05b38" stroke-opacity="1.0" stroke-width="0.8"/>
<path d="M320.7 245.2L329.1 245.2L324.9 252.5Z" fill="#e05b38" fill-opacity="0.5" stroke="#e05b38" stroke-opacity="1.0" stroke-width="0.8"/>
<path d="M321.5 239.0L329.9 239.0L325.7 246.3Z" fill="#e05b38" fill-opacity="0.5" stroke="#e05b38" stroke-opacity="1.0" stroke-width="0.8"/>
<path d="M327.1 246.9L335.5 246.9L331.3 254.2Z" fill="#e05b38" fill-opacity="0.5" stroke="#e05b38" stroke-opacity="1.0" stroke-width="0.8"/>
<path d="M320.0 239.3L328.4 239.3L324.2 246.6Z" fill="#e05b38" fill-opacity="0.5" stroke="#e05b38" stroke-opacity="1.0" stroke-width="0.8"/>
<path d="M316.7 239.1L325.1 239.1L320.9 246.4Z" fill="#e05b38" fill-opacity="0.5" stroke="#e05b38" stroke-opacity="1.0" stroke-width="0.8"/>
<path d="M319.4 245.4L327.8 245.4L323.6 252.7Z" fill="#e05b38" fill-opacity="0.5" stroke="#e05b38" stroke-opacity="1.0" stroke-width="0.8"/>
<path d="M323.3 243.2L331.7 243.2L327.5 250.5Z" fill="#e05b38" fill-opacity="0.5" stroke="#e05b38" stroke-opacity="1.0" stroke-width="0.8"/>
<path d="M328.4 239.9L336.8 239.9L332.6 247.2Z" fill="#e05b38" fill-opacity="0.5" stroke="#e05b38" stroke-opacity="1.0" stroke-width="0.8"/>
<path d="M326.9 239.4L335.3 239.4L331.1 246.7Z" fill="#e05b38" fill-opacity="0.5" stroke="#e05b38" stroke-opacity="1.0" stroke-width="0.8"/>
<path d="M323.1 239.3L331.5 239.3L327.3 246.6Z" fill="#e05b38" fill-opacity="0.5" stroke="#e05b38" stroke-opacity="1.0" stroke-width="0.8"/>
<path d="M320.5 240.1L328.9 240.1L324.7 247.4Z" fill="#e05b38" fill-opacity="0.5" stroke="#e05b38" stroke-opacity="1.0" stroke-width="0.8"/>
<path d="M327.7 247.0L336.1 247.0L331.9 254.3Z" fill="#e05b38" fill-opacity="0.5" stroke="#e05b38" stroke-opacity="1.0" stroke-width="0.8"/>
<path d="M330.6 241.0L339.0 241.0L334.8 248.3Z" fill="#e05b38" fill-opacity="0.5" stroke="#e05b38" stroke-opacity="1.0" stroke-width="0.8"/>
<path d="M322.6 240.1L331.0 240.1L326.8 247.4Z" fill="#e05b38" fill-opacity="0.5" stroke="#e05b38" stroke-opacity="1.0" stroke-width="0.8"/>
<path d="M325.7 245.9L334.1 245.9L329.9 253.2Z" fill="#e05b38" fill-opacity="0.5" stroke="#e05b38" stroke-opacity="1.0" stroke-width="0.8"/>
<path d="M333.1 239.1L341.5 239.1L337.3 246.4Z" fill="#e05b38" fill-opacity="0.5" stroke="#e05b38" stroke-opacity="1.0" stroke-width="0.8"/>
<path d="M320.3 240.1L328.7 240.1L324.5 247.4Z" fill="#e05b38" fill-opacity="0.5" stroke="#e05b38" stroke-opacity="1.0" stroke-width="0.8"/>
<path d="M321.5 245.2L329.9 245.2L325.7 252.5Z" fill="#e05b38" fill-opacity="0.5" stroke="#e05b38" stroke-opacity="1.0" stroke-width="0.8"/>
<path d="M317.2 240.9L325.6 240.9L321.4 248.2Z" fill="#e05b38" fill-opacity="0.5" stroke="#e05b38" stroke-opacity="1.0" stroke-width="0.8"/>
<path d="M325.9 239.0L334.3 239.0L330.1 246.3Z" fill="#e05b38" fill-opacity="0.5" stroke="#e05b38" stroke-opacity="1.0" stroke-width="0.8"/>
<path d="M326.0 240.4L334.4 240.4L330.2 247.7Z" fill="#e05b38" fill-opacity="0.5" stroke="#e05b38" stroke-opacity="1.0" stroke-width="0.8"/>
<path d="M323.5 241.6L331.9 241.6L327.7 248.9Z" fill="#e05b38" fill-opacity="0.5" stroke="#e05b38" stroke-opacity="1.0" stroke-width="0.8"/>
<path d="M323.5 246.8L331.9 246.8L327.7 254.1Z" fill="#e05b38" fill-opacity="0.5" stroke="#e05b38" stroke-opacity="1.0" stroke-width="0.8"/>
<path d="M329.6 243.4L338.0 243.4L333.8 250.7Z" fill="#e05b38" fill-opacity="0.5" stroke="#e05b38" stroke-opacity="1.0" stroke-width="0.8"/>
<path d="M318.5 239.9L326.9 239.9L322.7 247.2Z" fill="#e05b38" fill-opacity="0.5" stroke="#e05b38" stroke-opacity="1.0" stroke-width="0.8"/>
<path d="M328.0 246.4L336.4 246.4L332.2 253.7Z" fill="#e05b38" fill-opacity="0.5" stroke="#e05b38" stroke-opacity="1.0" stroke-width="0.8"/>
<path d="M319.1 240.5L327.5 240.5L323.3 247.8Z" fill="#e05b38" fill-opacity="0.5" stroke="#e05b38" stroke-opacity="1.0" stroke-width="0.8"/>
<path d="M330.2 244.9L338.6 244.9L334.4 252.2Z" fill="#e05b38" fill-opacity="0.5" stroke="#e05b38" stroke-opacity="1.0" stroke-width="0.8"/>
<path d="M332.1 240.0L340.5 240.0L336.3 247.3Z" fill="#e05b38" fill-opacity="0.5" stroke="#e05b38" stroke-opacity="1.0" stroke-width="0.8"/>
<path d="M325.2 246.2L333.6 246.2L329.4 253.5Z" fill="#e05b38" fill-opacity="0.5" stroke="#e05b38" stroke-opacity="1.0" stroke-width="0.8"/>
<path d="M317.9 242.0L326.3 242.0L322.1 249.3Z" fill="#e05b38" fill-opacity="0.5" stroke="#e05b38" stroke-opacity="1.0" stroke-width="0.8"/>
<rect x="398.2" y="286.2" width="5.6" height="5.6" fill="#b82626" fill-opacity="0.5" stroke="#b82626" stroke-opacity="1.0" stroke-width="0.8"/>
<rect x="400.4" y="289.7" width="5.6" height="5.6" fill="#b82626" fill-opacity="0.5" stroke="#b82626" stroke-opacity="1.0" stroke-width="0.8"/>
<rect x="399.2" y="287.8" width="5.6" height="5.6" fill="#b82626" fill-opacity="0.5" stroke="#b82626" stroke-opacity="1.0" stroke-width="0.8"/>
<rect x="398.0" y="284.9" width="5.6" height="5.6" fill="#b82626" fill-opacity="0.5" stroke="#b82626" stroke-opacity="1.0" stroke-width="0.8"/>
<rect x="398.2" y="285.0" width="5.6" height="5.6" fill="#b82626" fill-opacity="0.5" stroke="#b82626" stroke-opacity="1.0" stroke-width="0.8"/>
<rect x="397.7" y="285.8" width="5.6" height="5.6" fill="#b82626" fill-opacity="0.5" stroke="#b82626" stroke-opacity="1.0" stroke-width="0.8"/>
<rect x="400.6" y="288.3" width="5.6" height="5.6" fill="#b82626" fill-opacity="0.5" stroke="#b82626" stroke-opacity="1.0" stroke-width="0.8"/>
<rect x="397.3" y="288.3" width="5.6" height="5.6" fill="#b82626" fill-opacity="0.5" stroke="#b82626" stroke-opacity="1.0" stroke-width="0.8"/>
<rect x="399.8" y="289.8" width="5.6" height="5.6" fill="#b82626" fill-opacity="0.5" stroke="#b82626" stroke-opacity="1.0" stroke-width="0.8"/>
<rect x="398.5" y="285.4" width="5.6" height="5.6" fill="#b82626" fill-opacity="0.5" stroke="#b82626" stroke-opacity="1.0" stroke-width="0.8"/>
<path d="M399.6 287.8L403.5 291.7L399.6 295.6L395.7 291.7Z" fill="#9e1e1e" fill-opacity="0.5" stroke="#9e1e1e" stroke-opacity="1.0" stroke-width="0.8"/>
<path d="M399.7 287.9L403.6 291.8L399.7 295.7L395.8 291.8Z" fill="#9e1e1e" fill-opacity="0.5" stroke="#9e1e1e" stroke-opacity="1.0" stroke-width="0.8"/>
<path d="M401.0 286.1L404.9 290.0L401.0 293.9L397.1 290.0Z" fill="#9e1e1e" fill-opacity="0.5" stroke="#9e1e1e" stroke-opacity="1.0" stroke-width="0.8"/>
<path d="M400.0 288.6L403.9 292.5L400.0 296.4L396.1 292.5Z" fill="#9e1e1e" fill-opacity="0.5" stroke="#9e1e1e" stroke-opacity="1.0" stroke-width="0.8"/>
<path d="M400.9 288.3L404.8 292.2L400.9 296.1L397.0 292.2Z" fill="#9e1e1e" fill-opacity="0.5" stroke="#9e1e1e" stroke-opacity="1.0" stroke-width="0.8"/>
<path d="M411.0 290.2L414.9 294.1L411.0 298.0L407.1 294.1Z" fill="#9e1e1e" fill-opacity="0.5" stroke="#9e1e1e" stroke-opacity="1.0" stroke-width="0.8"/>
<path d="M408.5 285.6L412.4 289.5L408.5 293.4L404.6 289.5Z" fill="#9e1e1e" fill-opacity="0.5" stroke="#9e1e1e" stroke-opacity="1.0" stroke-width="0.8"/>
<path d="M405.3 287.5L409.2 291.4L405.3 295.3L401.4 291.4Z" fill="#9e1e1e" fill-opacity="0.5" stroke="#9e1e1e" stroke-opacity="1.0" stroke-width="0.8"/>
<path d="M409.2 291.3L413.1 295.2L409.2 299.1L405.3 295.2Z" fill="#9e1e1e" fill-opacity="0.5" stroke="#9e1e1e" stroke-opacity="1.0" stroke-width="0.8"/>
<path d="M407.2 285.5L411.1 289.4L407.2 293.3L403.3 289.4Z" fill="#9e1e1e" fill-opacity="0.5" stroke="#9e1e1e" stroke-opacity="1.0" stroke-width="0.8"/>
<path d="M410.8 287.5L414.7 291.4L410.8 295.3L406.9 291.4Z" fill="#9e1e1e" fill-opacity="0.5" stroke="#9e1e1e" stroke-opacity="1.0" stroke-width="0.8"/>
<path d="M412.7 286.3L416.6 290.2L412.7 294.1L408.8 290.2Z" fill="#9e1e1e" fill-opacity="0.5" stroke="#9e1e1e" stroke-opacity="1.0" stroke-width="0.8"/>
<path d="M414.6 290.2L418.5 294.1L414.6 298.0L410.7 294.1Z" fill="#9e1e1e" fill-opacity="0.5" stroke="#9e1e1e" stroke-opacity="1.0" stroke-width="0.8"/>
<path d="M407.2 283.9L411.1 287.8L407.2 291.7L403.3 287.8Z" fill="#9e1e1e" fill-opacity="0.5" stroke="#9e1e1e" stroke-opacity="1.0" stroke-width="0.8"/>
<path d="M410.5 286.9L414.4 290.8L410.5 294.7L406.6 290.8Z" fill="#9e1e1e" fill-opacity="0.5" stroke="#9e1e1e" stroke-opacity="1.0" stroke-width="0.8"/>
<path d="M414.3 286.0L418.2 289.9L414.3 293.8L410.4 289.9Z" fill="#9e1e1e" fill-opacity="0.5" stroke="#9e1e1e" stroke-opacity="1.0" stroke-width="0.8"/>
<path d="M409.1 290.5L413.0 294.4L409.1 298.3L405.2 294.4Z" fill="#9e1e1e" fill-opacity="0.5" stroke="#9e1e1e" stroke-opacity="1.0" stroke-width="0.8"/>
<path d="M411.8 286.9L415.7 290.8L411.8 294.7L407.9 290.8Z" fill="#9e1e1e" fill-opacity="0.5" stroke="#9e1e1e" stroke-opacity="1.0" stroke-width="0.8"/>
<path d="M409.7 285.7L413.6 289.6L409.7 293.5L405.8 289.6Z" fill="#9e1e1e" fill-opacity="0.5" stroke="#9e1e1e" stroke-opacity="1.0" stroke-width="0.8"/>
<path d="M415.0 289.2L418.9 293.1L415.0 297.0L411.1 293.1Z" fill="#9e1e1e" fill-opacity="0.5" stroke="#9e1e1e" stroke-opacity="1.0" stroke-width="0.8"/>
<path d="M411.2 290.8L415.1 294.7L411.2 298.6L407.3 294.7Z" fill="#9e1e1e" fill-opacity="0.5" stroke="#9e1e1e" stroke-opacity="1.0" stroke-width="0.8"/>
<path d="M409.8 291.5L413.7 295.4L409.8 299.3L405.9 295.4Z" fill="#9e1e1e" fill-opacity="0.5" stroke="#9e1e1e" stroke-opacity="1.0" stroke-width="0.8"/>
<path d="M412.5 289.2L416.4 293.1L412.5 297.0L408.6 293.1Z" fill="#9e1e1e" fill-opacity="0.5" stroke="#9e1e1e" stroke-opacity="1.0" stroke-width="0.8"/>
<path d="M408.2 289.4L412.1 293.3L408.2 297.2L404.3 293.3Z" fill="#9e1e1e" fill-opacity="0.5" stroke="#9e1e1e" stroke-opacity="1.0" stroke-width="0.8"/>
<path d="M411.2 290.7L415.1 294.6L411.2 298.5L407.3 294.6Z" fill="#9e1e1e" fill-opacity="0.5" stroke="#9e1e1e" stroke-opacity="1.0" stroke-width="0.8"/>
<path d="M410.4 290.9L414.3 294.8L410.4 298.7L406.5 294.8Z" fill="#9e1e1e" fill-opacity="0.5" stroke="#9e1e1e" stroke-opacity="1.0" stroke-width="0.8"/>
<path d="M411.4 289.1L415.3 293.0L411.4 296.9L407.5 293.0Z" fill="#9e1e1e" fill-opacity="0.5" stroke="#9e1e1e" stroke-opacity="1.0" stroke-width="0.8"/>
<path d="M412.5 291.0L416.4 294.9L412.5 298.8L408.6 294.9Z" fill="#9e1e1e" fill-opacity="0.5" stroke="#9e1e1e" stroke-opacity="1.0" stroke-width="0.8"/>
<path d="M407.6 288.2L411.5 292.1L407.6 296.0L403.7 292.1Z" fill="#9e1e1e" fill-opacity="0.5" stroke="#9e1e1e" stroke-opacity="1.0" stroke-width="0.8"/>
<path d="M411.9 285.2L415.8 289.1L411.9 293.0L408.0 289.1Z" fill="#9e1e1e" fill-opacity="0.5" stroke="#9e1e1e" stroke-opacity="1.0" stroke-width="0.8"/>
<path d="M414.7 290.3L418.6 294.2L414.7 298.1L410.8 294.2Z" fill="#9e1e1e" fill-opacity="0.5" stroke="#9e1e1e" stroke-opacity="1.0" stroke-width="0.8"/>
<path d="M412.1 292.2L416.0 296.1L412.1 300.0L408.2 296.1Z" fill="#9e1e1e" fill-opacity="0.5" stroke="#9e1e1e" stroke-opacity="1.0" stroke-width="0.8"/>
<path d="M407.3 286.9L411.2 290.8L407.3 294.7L403.4 290.8Z" fill="#9e1e1e" fill-opacity="0.5" stroke="#9e1e1e" stroke-opacity="1.0" stroke-width="0.8"/>
<path d="M413.7 291.8L417.6 295.7L413.7 299.6L409.8 295.7Z" fill="#9e1e1e" fill-opacity="0.5" stroke="#9e1e1e" stroke-opacity="1.0" stroke-width="0.8"/>
<path d="M412.1 284.9L416.0 288.8L412.1 292.7L408.2 288.8Z" fill="#9e1e1e" fill-opacity="0.5" stroke="#9e1e1e" stroke-opacity="1.0" stroke-width="0.8"/>
<path d="M411.2 291.2L415.1 295.1L411.2 299.0L407.3 295.1Z" fill="#9e1e1e" fill-opacity="0.5" stroke="#9e1e1e" stroke-opacity="1.0" stroke-width="0.8"/>
<path d="M413.0 289.3L416.9 293.2L413.0 297.1L409.1 293.2Z" fill="#9e1e1e" fill-opacity="0.5" stroke="#9e1e1e" stroke-opacity="1.0" stroke-width="0.8"/>
<path d="M413.5 292.2L417.4 296.1L413.5 300.0L409.6 296.1Z" fill="#9e1e1e" fill-opacity="0.5" stroke="#9e1e1e" stroke-opacity="1.0" stroke-width="0.8"/>
<path d="M409.5 288.8L413.4 292.7L409.5 296.6L405.6 292.7Z" fill="#9e1e1e" fill-opacity="0.5" stroke="#9e1e1e" stroke-opacity="1.0" stroke-width="0.8"/>
<path d="M409.4 291.6L413.3 295.5L409.4 299.4L405.5 295.5Z" fill="#9e1e1e" fill-opacity="0.5" stroke="#9e1e1e" stroke-opacity="1.0" stroke-width="0.8"/>
<path d="M413.3 286.2L417.2 290.1L413.3 294.0L409.4 290.1Z" fill="#9e1e1e" fill-opacity="0.5" stroke="#9e1e1e" stroke-opacity="1.0" stroke-width="0.8"/>
<path d="M407.7 284.0L411.6 287.9L407.7 291.8L403.8 287.9Z" fill="#9e1e1e" fill-opacity="0.5" stroke="#9e1e1e" stroke-opacity="1.0" stroke-width="0.8"/>
<path d="M413.8 288.9L417.7 292.8L413.8 296.7L409.9 292.8Z" fill="#9e1e1e" fill-opacity="0.5" stroke="#9e1e1e" stroke-opacity="1.0" stroke-width="0.8"/>
<path d="M408.0 285.1L411.9 289.0L408.0 292.9L404.1 289.0Z" fill="#9e1e1e" fill-opacity="0.5" stroke="#9e1e1e" stroke-opacity="1.0" stroke-width="0.8"/>
<path d="M414.9 291.0L418.8 294.9L414.9 298.8L411.0 294.9Z" fill="#9e1e1e" fill-opacity="0.5" stroke="#9e1e1e" stroke-opacity="1.0" stroke-width="0.8"/>
<path d="M405.7 283.2L409.6 287.1L405.7 291.0L401.8 287.1Z" fill="#9e1e1e" fill-opacity="0.5" stroke="#9e1e1e" stroke-opacity="1.0" stroke-width="0.8"/>
<path d="M405.4 283.9L409.3 287.8L405.4 291.7L401.5 287.8Z" fill="#9e1e1e" fill-opacity="0.5" stroke="#9e1e1e" stroke-opacity="1.0" stroke-width="0.8"/>
<path d="M406.8 284.2L410.7 288.1L406.8 292.0L402.9 288.1Z" fill="#9e1e1e" fill-opacity="0.5" stroke="#9e1e1e" stroke-opacity="1.0" stroke-width="0.8"/>
<path d="M407.6 284.4L411.5 288.3L407.6 292.2L403.7 288.3Z" fill="#9e1e1e" fill-opacity="0.5" stroke="#9e1e1e" stroke-opacity="1.0" stroke-width="0.8"/>
<path d="M404.5 283.4L408.4 287.3L404.5 291.2L400.6 287.3Z" fill="#9e1e1e" fill-opacity="0.5" stroke="#9e1e1e" stroke-opacity="1.0" stroke-width="0.8"/>
<path d="M406.5 283.8L410.4 287.7L406.5 291.6L402.6 287.7Z" fill="#9e1e1e" fill-opacity="0.5" stroke="#9e1e1e" stroke-opacity="1.0" stroke-width="0.8"/>
<path d="M407.0 284.8L410.9 288.7L407.0 292.6L403.1 288.7Z" fill="#9e1e1e" fill-opacity="0.5" stroke="#9e1e1e" stroke-opacity="1.0" stroke-width="0.8"/>
<path d="M404.1 285.1L408.0 289.0L404.1 292.9L400.2 289.0Z" fill="#9e1e1e" fill-opacity="0.5" stroke="#9e1e1e" stroke-opacity="1.0" stroke-width="0.8"/>
<circle cx="407.7" cy="292.0" r="3.10" fill="#e22a2a" fill-opacity="0.5" stroke="#e22a2a" stroke-opacity="1.0" stroke-width="0.8"/>
<circle cx="409.2" cy="289.6" r="3.10" fill="#e22a2a" fill-opacity="0.5" stroke="#e22a2a" stroke-opacity="1.0" stroke-width="0.8"/>
<circle cx="408.5" cy="291.4" r="3.10" fill="#e22a2a" fill-opacity="0.5" stroke="#e22a2a" stroke-opacity="1.0" stroke-width="0.8"/>
<circle cx="410.1" cy="290.1" r="3.10" fill="#e22a2a" fill-opacity="0.5" stroke="#e22a2a" stroke-opacity="1.0" stroke-width="0.8"/>
<circle cx="409.9" cy="290.8" r="3.10" fill="#e22a2a" fill-opacity="0.5" stroke="#e22a2a" stroke-opacity="1.0" stroke-width="0.8"/>
<circle cx="409.8" cy="291.6" r="3.10" fill="#e22a2a" fill-opacity="0.5" stroke="#e22a2a" stroke-opacity="1.0" stroke-width="0.8"/>
<rect x="50.5" y="12.5" width="381.8" height="397.7" fill="none" stroke="#cdcdcd" stroke-width="1"/>
<line x1="134.50" y1="410.2" x2="134.50" y2="413.0" stroke="#b4b4b4" stroke-width="0.8"/>
<text x="134.50" y="422.7" font-size="9.1" fill="#4d4d4d" stroke="#4d4d4d" text-anchor="middle" transform="rotate(0.03 134.50 422.7)">-0.03</text>
<line x1="229.00" y1="410.2" x2="229.00" y2="413.0" stroke="#b4b4b4" stroke-width="0.8"/>
<text x="229.00" y="422.7" font-size="9.1" fill="#4d4d4d" stroke="#4d4d4d" text-anchor="middle" transform="rotate(0.03 229.00 422.7)">0.00</text>
<line x1="323.50" y1="410.2" x2="323.50" y2="413.0" stroke="#b4b4b4" stroke-width="0.8"/>
<text x="323.50" y="422.7" font-size="9.1" fill="#4d4d4d" stroke="#4d4d4d" text-anchor="middle" transform="rotate(0.03 323.50 422.7)">0.03</text>
<line x1="418.00" y1="410.2" x2="418.00" y2="413.0" stroke="#b4b4b4" stroke-width="0.8"/>
<text x="418.00" y="422.7" font-size="9.1" fill="#4d4d4d" stroke="#4d4d4d" text-anchor="middle" transform="rotate(0.03 418.00 422.7)">0.06</text>
<line x1="47.7" y1="115.20" x2="50.5" y2="115.20" stroke="#b4b4b4" stroke-width="0.8"/>
<text x="45.3" y="118.50" font-size="9.1" fill="#4d4d4d" stroke="#4d4d4d" text-anchor="end" transform="rotate(0.03 45.3 118.50)">0.04</text>
<line x1="47.7" y1="228.80" x2="50.5" y2="228.80" stroke="#b4b4b4" stroke-width="0.8"/>
<text x="45.3" y="232.10" font-size="9.1" fill="#4d4d4d" stroke="#4d4d4d" text-anchor="end" transform="rotate(0.03 45.3 232.10)">0.00</text>
<line x1="47.7" y1="342.40" x2="50.5" y2="342.40" stroke="#b4b4b4" stroke-width="0.8"/>
<text x="45.3" y="345.70" font-size="9.1" fill="#4d4d4d" stroke="#4d4d4d" text-anchor="end" transform="rotate(0.03 45.3 345.70)">-0.04</text>
<text x="241.3" y="436.4" font-size="11.6" fill="#000" stroke="#000" text-anchor="middle" transform="rotate(0.03 241.3 436.4)">Principal Component 1 (53.59%)</text>
<text transform="translate(18.4 211.1) rotate(-89.97)" font-size="11.66" fill="#000" stroke="#000" text-anchor="middle">Principal Component 2 (19.71%)</text>
<text x="0.6" y="10.8" font-size="14" fill="#000" stroke="#000" transform="rotate(0.03 0.6 10.8)">A</text>
<text x="443.7" y="221.6" font-size="14" fill="#000" stroke="#000" transform="rotate(0.03 443.7 221.6)">B</text>
<line x1="503.84" y1="224.5" x2="503.84" y2="410.2" stroke="#f2f2f2" stroke-width="1"/>
<line x1="522.72" y1="224.5" x2="522.72" y2="410.2" stroke="#f2f2f2" stroke-width="1"/>
<line x1="541.60" y1="224.5" x2="541.60" y2="410.2" stroke="#f2f2f2" stroke-width="1"/>
<line x1="560.48" y1="224.5" x2="560.48" y2="410.2" stroke="#f2f2f2" stroke-width="1"/>
<line x1="579.36" y1="224.5" x2="579.36" y2="410.2" stroke="#f2f2f2" stroke-width="1"/>
<line x1="598.24" y1="224.5" x2="598.24" y2="410.2" stroke="#f2f2f2" stroke-width="1"/>
<line x1="617.12" y1="224.5" x2="617.12" y2="410.2" stroke="#f2f2f2" stroke-width="1"/>
<line x1="636.00" y1="224.5" x2="636.00" y2="410.2" stroke="#f2f2f2" stroke-width="1"/>
<line x1="654.88" y1="224.5" x2="654.88" y2="410.2" stroke="#f2f2f2" stroke-width="1"/>
<line x1="486.4" y1="393.24" x2="672.4" y2="393.24" stroke="#f2f2f2" stroke-width="1"/>
<line x1="486.4" y1="359.32" x2="672.4" y2="359.32" stroke="#f2f2f2" stroke-width="1"/>
<line x1="486.4" y1="325.40" x2="672.4" y2="325.40" stroke="#f2f2f2" stroke-width="1"/>
<line x1="486.4" y1="291.48" x2="672.4" y2="291.48" stroke="#f2f2f2" stroke-width="1"/>
<line x1="486.4" y1="257.56" x2="672.4" y2="257.56" stroke="#f2f2f2" stroke-width="1"/>
<line x1="486.4" y1="223.64" x2="672.4" y2="223.64" stroke="#f2f2f2" stroke-width="1"/>
<line x1="494.40" y1="224.5" x2="494.40" y2="410.2" stroke="#ebebeb" stroke-width="1"/>
<line x1="513.28" y1="224.5" x2="513.28" y2="410.2" stroke="#ebebeb" stroke-width="1"/>
<line x1="532.16" y1="224.5" x2="532.16" y2="410.2" stroke="#ebebeb" stroke-width="1"/>
<line x1="551.04" y1="224.5" x2="551.04" y2="410.2" stroke="#ebebeb" stroke-width="1"/>
<line x1="569.92" y1="224.5" x2="569.92" y2="410.2" stroke="#ebebeb" stroke-width="1"/>
<line x1="588.80" y1="224.5" x2="588.80" y2="410.2" stroke="#ebebeb" stroke-width="1"/>
<line x1="607.68" y1="224.5" x2="607.68" y2="410.2" stroke="#ebebeb" stroke-width="1"/>
<line x1="626.56" y1="224.5" x2="626.56" y2="410.2" stroke="#ebebeb" stroke-width="1"/>
<line x1="645.44" y1="224.5" x2="645.44" y2="410.2" stroke="#ebebeb" stroke-width="1"/>
<line x1="664.32" y1="224.5" x2="664.32" y2="410.2" stroke="#ebebeb" stroke-width="1"/>
<line x1="486.4" y1="410.20" x2="672.4" y2="410.20" stroke="#ebebeb" stroke-width="1"/>
<line x1="486.4" y1="376.28" x2="672.4" y2="376.28" stroke="#ebebeb" stroke-width="1"/>
<line x1="486.4" y1="342.36" x2="672.4" y2="342.36" stroke="#ebebeb" stroke-width="1"/>
<line x1="486.4" y1="308.44" x2="672.4" y2="308.44" stroke="#ebebeb" stroke-width="1"/>
<line x1="486.4" y1="274.52" x2="672.4" y2="274.52" stroke="#ebebeb" stroke-width="1"/>
<line x1="486.4" y1="240.60" x2="672.4" y2="240.60" stroke="#ebebeb" stroke-width="1"/>
<rect x="485.90" y="228.8" width="17" height="181.40" fill="#000"/>
<rect x="504.78" y="343.6" width="17" height="66.60" fill="#000"/>
<rect x="523.66" y="392.7" width="17" height="17.50" fill="#5f5f5f"/>
<rect x="542.54" y="394.2" width="17" height="16.00" fill="#5f5f5f"/>
<rect x="561.42" y="397.6" width="17" height="12.60" fill="#5f5f5f"/>
<rect x="580.30" y="400.2" width="17" height="10.00" fill="#5f5f5f"/>
<rect x="599.18" y="400.7" width="17" height="9.50" fill="#5f5f5f"/>
<rect x="618.06" y="401.1" width="17" height="9.10" fill="#5f5f5f"/>
<rect x="636.94" y="402.0" width="17" height="8.20" fill="#5f5f5f"/>
<rect x="655.82" y="404.9" width="17" height="5.30" fill="#5f5f5f"/>
<rect x="486.4" y="224.5" width="186.0" height="185.7" fill="none" stroke="#cdcdcd" stroke-width="1"/>
<line x1="494.40" y1="410.2" x2="494.40" y2="413.0" stroke="#b4b4b4" stroke-width="0.8"/>
<text x="494.40" y="422.7" font-size="9.1" fill="#4d4d4d" stroke="#4d4d4d" text-anchor="middle" transform="rotate(0.03 494.40 422.7)">1</text>
<line x1="513.28" y1="410.2" x2="513.28" y2="413.0" stroke="#b4b4b4" stroke-width="0.8"/>
<text x="513.28" y="422.7" font-size="9.1" fill="#4d4d4d" stroke="#4d4d4d" text-anchor="middle" transform="rotate(0.03 513.28 422.7)">2</text>
<line x1="532.16" y1="410.2" x2="532.16" y2="413.0" stroke="#b4b4b4" stroke-width="0.8"/>
<text x="532.16" y="422.7" font-size="9.1" fill="#4d4d4d" stroke="#4d4d4d" text-anchor="middle" transform="rotate(0.03 532.16 422.7)">3</text>
<line x1="551.04" y1="410.2" x2="551.04" y2="413.0" stroke="#b4b4b4" stroke-width="0.8"/>
<text x="551.04" y="422.7" font-size="9.1" fill="#4d4d4d" stroke="#4d4d4d" text-anchor="middle" transform="rotate(0.03 551.04 422.7)">4</text>
<line x1="569.92" y1="410.2" x2="569.92" y2="413.0" stroke="#b4b4b4" stroke-width="0.8"/>
<text x="569.92" y="422.7" font-size="9.1" fill="#4d4d4d" stroke="#4d4d4d" text-anchor="middle" transform="rotate(0.03 569.92 422.7)">5</text>
<line x1="588.80" y1="410.2" x2="588.80" y2="413.0" stroke="#b4b4b4" stroke-width="0.8"/>
<text x="588.80" y="422.7" font-size="9.1" fill="#4d4d4d" stroke="#4d4d4d" text-anchor="middle" transform="rotate(0.03 588.80 422.7)">6</text>
<line x1="607.68" y1="410.2" x2="607.68" y2="413.0" stroke="#b4b4b4" stroke-width="0.8"/>
<text x="607.68" y="422.7" font-size="9.1" fill="#4d4d4d" stroke="#4d4d4d" text-anchor="middle" transform="rotate(0.03 607.68 422.7)">7</text>
<line x1="626.56" y1="410.2" x2="626.56" y2="413.0" stroke="#b4b4b4" stroke-width="0.8"/>
<text x="626.56" y="422.7" font-size="9.1" fill="#4d4d4d" stroke="#4d4d4d" text-anchor="middle" transform="rotate(0.03 626.56 422.7)">8</text>
<line x1="645.44" y1="410.2" x2="645.44" y2="413.0" stroke="#b4b4b4" stroke-width="0.8"/>
<text x="645.44" y="422.7" font-size="9.1" fill="#4d4d4d" stroke="#4d4d4d" text-anchor="middle" transform="rotate(0.03 645.44 422.7)">9</text>
<line x1="664.32" y1="410.2" x2="664.32" y2="413.0" stroke="#b4b4b4" stroke-width="0.8"/>
<text x="664.32" y="422.7" font-size="9.1" fill="#4d4d4d" stroke="#4d4d4d" text-anchor="middle" transform="rotate(0.03 664.32 422.7)">10</text>
<line x1="483.59999999999997" y1="410.20" x2="486.4" y2="410.20" stroke="#b4b4b4" stroke-width="0.8"/>
<text x="481.5" y="413.50" font-size="9.1" fill="#4d4d4d" stroke="#4d4d4d" text-anchor="end" transform="rotate(0.03 481.5 413.50)">0.0</text>
<line x1="483.59999999999997" y1="376.28" x2="486.4" y2="376.28" stroke="#b4b4b4" stroke-width="0.8"/>
<text x="481.5" y="379.58" font-size="9.1" fill="#4d4d4d" stroke="#4d4d4d" text-anchor="end" transform="rotate(0.03 481.5 379.58)">0.1</text>
<line x1="483.59999999999997" y1="342.36" x2="486.4" y2="342.36" stroke="#b4b4b4" stroke-width="0.8"/>
<text x="481.5" y="345.66" font-size="9.1" fill="#4d4d4d" stroke="#4d4d4d" text-anchor="end" transform="rotate(0.03 481.5 345.66)">0.2</text>
<line x1="483.59999999999997" y1="308.44" x2="486.4" y2="308.44" stroke="#b4b4b4" stroke-width="0.8"/>
<text x="481.5" y="311.74" font-size="9.1" fill="#4d4d4d" stroke="#4d4d4d" text-anchor="end" transform="rotate(0.03 481.5 311.74)">0.3</text>
<line x1="483.59999999999997" y1="274.52" x2="486.4" y2="274.52" stroke="#b4b4b4" stroke-width="0.8"/>
<text x="481.5" y="277.82" font-size="9.1" fill="#4d4d4d" stroke="#4d4d4d" text-anchor="end" transform="rotate(0.03 481.5 277.82)">0.4</text>
<line x1="483.59999999999997" y1="240.60" x2="486.4" y2="240.60" stroke="#b4b4b4" stroke-width="0.8"/>
<text x="481.5" y="243.90" font-size="9.1" fill="#4d4d4d" stroke="#4d4d4d" text-anchor="end" transform="rotate(0.03 481.5 243.90)">0.5</text>
<text x="579.5" y="436.2" font-size="11.6" fill="#000" stroke="#000" text-anchor="middle" transform="rotate(0.03 579.5 436.2)">Principal Component</text>
<text transform="translate(461.8 317.1) rotate(-89.97)" font-size="11.75" fill="#000" stroke="#000" text-anchor="middle">Proportion of Variance</text>
<circle cx="478.2" cy="51.6" r="3.47" fill="#7cc67c" fill-opacity="0.5" stroke="#7cc67c" stroke-opacity="0.85" stroke-width="0.8"/>
<text x="488.1" y="53.8" font-size="7.6" fill="#4d4d4d" stroke="#4d4d4d" transform="rotate(0.03 488.1 53.8)">HOLS</text>
<rect x="475.3" y="63.9" width="5.9" height="5.9" fill="#8cc764" fill-opacity="0.5" stroke="#8cc764" stroke-opacity="0.85" stroke-width="0.8"/>
<text x="488.1" y="68.7" font-size="7.6" fill="#4d4d4d" stroke="#4d4d4d" transform="rotate(0.03 488.1 68.7)">ANGU</text>
<path d="M478.2 78.2L482.1 82.1L478.2 86.0L474.3 82.1Z" fill="#a8c23c" fill-opacity="0.5" stroke="#a8c23c" stroke-opacity="0.85" stroke-width="0.8"/>
<text x="488.1" y="83.8" font-size="7.6" fill="#4d4d4d" stroke="#4d4d4d" transform="rotate(0.03 488.1 83.8)">JERS</text>
<circle cx="478.2" cy="119.8" r="3.47" fill="#6ebd95" fill-opacity="0.5" stroke="#6ebd95" stroke-opacity="0.85" stroke-width="0.8"/>
<text x="488.1" y="122.0" font-size="7.6" fill="#4d4d4d" stroke="#4d4d4d" transform="rotate(0.03 488.1 122.0)">ROMA</text>
<rect x="475.3" y="132.1" width="5.9" height="5.9" fill="#62b9a2" fill-opacity="0.5" stroke="#62b9a2" stroke-opacity="0.85" stroke-width="0.8"/>
<text x="488.1" y="136.9" font-size="7.6" fill="#4d4d4d" stroke="#4d4d4d" transform="rotate(0.03 488.1 136.9)">CHIA</text>
<path d="M478.2 146.0L482.1 149.9L478.2 153.8L474.3 149.9Z" fill="#55a8a6" fill-opacity="0.5" stroke="#55a8a6" stroke-opacity="0.85" stroke-width="0.8"/>
<text x="488.1" y="151.6" font-size="7.6" fill="#4d4d4d" stroke="#4d4d4d" transform="rotate(0.03 488.1 151.6)">MARC</text>
<path d="M478.2 160.2L482.5 167.7L473.9 167.7Z" fill="#52a2bd" fill-opacity="0.5" stroke="#52a2bd" stroke-opacity="0.85" stroke-width="0.8"/>
<text x="488.1" y="166.9" font-size="7.6" fill="#4d4d4d" stroke="#4d4d4d" transform="rotate(0.03 488.1 166.9)">MARE</text>
<path d="M473.9 177.7L482.5 177.7L478.2 185.1Z" fill="#5094c6" fill-opacity="0.5" stroke="#5094c6" stroke-opacity="0.85" stroke-width="0.8"/>
<text x="488.1" y="182.5" font-size="7.6" fill="#4d4d4d" stroke="#4d4d4d" transform="rotate(0.03 488.1 182.5)">ALEN</text>
<circle cx="534.6" cy="51.6" r="3.47" fill="#5a82d6" fill-opacity="0.5" stroke="#5a82d6" stroke-opacity="0.85" stroke-width="0.8"/>
<text x="544.4" y="53.8" font-size="7.6" fill="#4d4d4d" stroke="#4d4d4d" transform="rotate(0.03 544.4 53.8)">MUTU</text>
<rect x="531.7" y="63.9" width="5.9" height="5.9" fill="#626ecb" fill-opacity="0.5" stroke="#626ecb" stroke-opacity="0.85" stroke-width="0.8"/>
<text x="544.4" y="68.7" font-size="7.6" fill="#4d4d4d" stroke="#4d4d4d" transform="rotate(0.03 544.4 68.7)">LAGU</text>
<path d="M534.6 78.2L538.5 82.1L534.6 86.0L530.7 82.1Z" fill="#6a5abf" fill-opacity="0.5" stroke="#6a5abf" stroke-opacity="0.85" stroke-width="0.8"/>
<text x="544.4" y="83.8" font-size="7.6" fill="#4d4d4d" stroke="#4d4d4d" transform="rotate(0.03 544.4 83.8)">NDAG</text>
<circle cx="534.6" cy="119.8" r="3.47" fill="#8f4fb0" fill-opacity="0.5" stroke="#8f4fb0" stroke-opacity="0.85" stroke-width="0.8"/>
<text x="544.4" y="122.0" font-size="7.6" fill="#4d4d4d" stroke="#4d4d4d" transform="rotate(0.03 544.4 122.0)">NDAM</text>
<rect x="531.7" y="132.1" width="5.9" height="5.9" fill="#a06ec8" fill-opacity="0.5" stroke="#a06ec8" stroke-opacity="0.85" stroke-width="0.8"/>
<text x="544.4" y="136.9" font-size="7.6" fill="#4d4d4d" stroke="#4d4d4d" transform="rotate(0.03 544.4 136.9)">BORG</text>
<path d="M534.6 146.0L538.5 149.9L534.6 153.8L530.7 149.9Z" fill="#a278c8" fill-opacity="0.5" stroke="#a278c8" stroke-opacity="0.85" stroke-width="0.8"/>
<text x="544.4" y="151.6" font-size="7.6" fill="#4d4d4d" stroke="#4d4d4d" transform="rotate(0.03 544.4 151.6)">SOMB</text>
<path d="M534.6 160.2L538.9 167.7L530.3 167.7Z" fill="#bd9fdc" fill-opacity="0.5" stroke="#bd9fdc" stroke-opacity="0.85" stroke-width="0.8"/>
<text x="544.4" y="166.9" font-size="7.6" fill="#4d4d4d" stroke="#4d4d4d" transform="rotate(0.03 544.4 166.9)">KETE</text>
<path d="M530.3 177.7L538.9 177.7L534.6 185.1Z" fill="#cdb6e4" fill-opacity="0.5" stroke="#cdb6e4" stroke-opacity="0.85" stroke-width="0.8"/>
<text x="544.4" y="182.5" font-size="7.6" fill="#4d4d4d" stroke="#4d4d4d" transform="rotate(0.03 544.4 182.5)">SHEK</text>
<circle cx="607.7" cy="51.6" r="3.47" fill="#dbb346" fill-opacity="0.5" stroke="#dbb346" stroke-opacity="0.85" stroke-width="0.8"/>
<text x="617.6" y="53.8" font-size="7.6" fill="#4d4d4d" stroke="#4d4d4d" transform="rotate(0.03 617.6 53.8)">ANKO</text>
<rect x="604.8" y="63.9" width="5.9" height="5.9" fill="#de9c3c" fill-opacity="0.5" stroke="#de9c3c" stroke-opacity="0.85" stroke-width="0.8"/>
<text x="617.6" y="68.7" font-size="7.6" fill="#4d4d4d" stroke="#4d4d4d" transform="rotate(0.03 617.6 68.7)">NGAN</text>
<path d="M607.7 78.2L611.6 82.1L607.7 86.0L603.8 82.1Z" fill="#e08b40" fill-opacity="0.5" stroke="#e08b40" stroke-opacity="0.85" stroke-width="0.8"/>
<text x="617.6" y="83.8" font-size="7.6" fill="#4d4d4d" stroke="#4d4d4d" transform="rotate(0.03 617.6 83.8)">EASZ</text>
<path d="M607.7 96.0L612.0 103.5L603.4 103.5Z" fill="#e06f30" fill-opacity="0.5" stroke="#e06f30" stroke-opacity="0.85" stroke-width="0.8"/>
<text x="617.6" y="102.7" font-size="7.6" fill="#4d4d4d" stroke="#4d4d4d" transform="rotate(0.03 617.6 102.7)">KARA</text>
<path d="M603.4 117.2L612.0 117.2L607.7 124.6Z" fill="#e05b38" fill-opacity="0.5" stroke="#e05b38" stroke-opacity="0.85" stroke-width="0.8"/>
<text x="617.6" y="122.0" font-size="7.6" fill="#4d4d4d" stroke="#4d4d4d" transform="rotate(0.03 617.6 122.0)">BORA</text>
<circle cx="607.7" cy="149.4" r="3.47" fill="#e22a2a" fill-opacity="0.5" stroke="#e22a2a" stroke-opacity="0.85" stroke-width="0.8"/>
<text x="617.6" y="151.6" font-size="7.6" fill="#4d4d4d" stroke="#4d4d4d" transform="rotate(0.03 617.6 151.6)">THAR</text>
<rect x="604.8" y="162.1" width="5.9" height="5.9" fill="#b82626" fill-opacity="0.5" stroke="#b82626" stroke-opacity="0.85" stroke-width="0.8"/>
<text x="617.6" y="166.9" font-size="7.6" fill="#4d4d4d" stroke="#4d4d4d" transform="rotate(0.03 617.6 166.9)">GIR</text>
<path d="M607.7 176.9L611.6 180.8L607.7 184.7L603.8 180.8Z" fill="#9e1e1e" fill-opacity="0.5" stroke="#9e1e1e" stroke-opacity="0.85" stroke-width="0.8"/>
<text x="617.6" y="182.5" font-size="7.6" fill="#4d4d4d" stroke="#4d4d4d" transform="rotate(0.03 617.6 182.5)">NELO</text>
<text x="488.1" y="34.6" font-size="7.6" fill="#000" stroke="#000" transform="rotate(0.03 488.1 34.6)">European</text>
<text x="488.1" y="41.9" font-size="7.6" fill="#000" stroke="#000" font-style="italic" transform="rotate(0.03 488.1 41.9)">Bos taurus</text>
<text x="544.4" y="34.6" font-size="7.6" fill="#000" stroke="#000" transform="rotate(0.03 544.4 34.6)">African</text>
<text x="544.4" y="41.9" font-size="7.6" fill="#000" stroke="#000" font-style="italic" transform="rotate(0.03 544.4 41.9)">Bos taurus</text>
<text x="617.6" y="34.6" font-size="7.6" fill="#000" stroke="#000" transform="rotate(0.03 617.6 34.6)">Trypanosusceptible</text>
<text x="617.6" y="41.9" font-size="7.6" fill="#000" stroke="#000" transform="rotate(0.03 617.6 41.9)">African hybrid</text>
<text x="488.1" y="95.2" font-size="7.6" fill="#000" stroke="#000" transform="rotate(0.03 488.1 95.2)">Residually</text>
<text x="488.1" y="102.3" font-size="7.6" fill="#000" stroke="#000" transform="rotate(0.03 488.1 102.3)">admixed</text>
<text x="488.1" y="109.4" font-size="7.6" fill="#000" stroke="#000" transform="rotate(0.03 488.1 109.4)">European</text>
<text x="544.4" y="99.0" font-size="7.6" fill="#000" stroke="#000" transform="rotate(0.03 544.4 99.0)">Trypanotolerant</text>
<text x="544.4" y="106.2" font-size="7.6" fill="#000" stroke="#000" transform="rotate(0.03 544.4 106.2)">African hybrid</text>
<text x="617.6" y="133.0" font-size="7.6" fill="#000" stroke="#000" font-style="italic" transform="rotate(0.03 617.6 133.0)">Bos</text>
<text x="617.6" y="140.3" font-size="7.6" fill="#000" stroke="#000" font-style="italic" transform="rotate(0.03 617.6 140.3)">indicus</text>
</svg>
</body></html>
